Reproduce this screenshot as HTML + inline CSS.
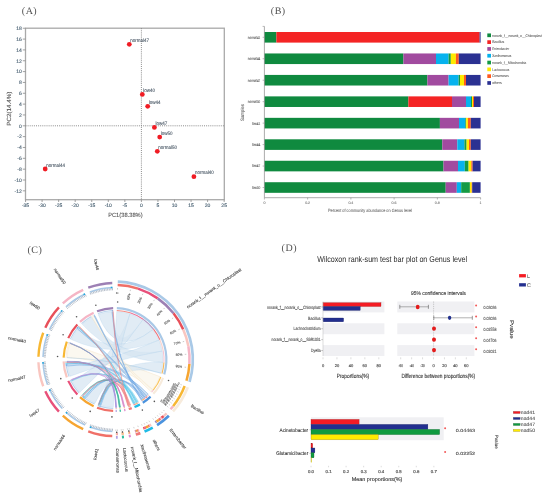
<!DOCTYPE html>
<html><head><meta charset="utf-8"><style>
html,body{margin:0;padding:0;background:#fff;width:550px;height:496px;overflow:hidden}
svg{display:block;filter:blur(0.3px)}
</style></head><body>
<svg width="550" height="496" viewBox="0 0 550 496" text-rendering="geometricPrecision">
<rect width="550" height="496" fill="#fff"/>
<text x="21.80" y="14.20" font-size="10" fill="#505050" text-anchor="start" font-family="'Liberation Serif', serif" letter-spacing="0.5">(A)</text>
<rect x="25.5" y="28.2" width="198.8" height="171.5" fill="none" stroke="#a9a9a9" stroke-width="1.3"/>
<line x1="141.4" y1="28.2" x2="141.4" y2="199.7" stroke="#808080" stroke-width="0.9" stroke-dasharray="1 1.1"/>
<line x1="25.5" y1="125.8" x2="224.3" y2="125.8" stroke="#808080" stroke-width="0.9" stroke-dasharray="1 1.1"/>
<line x1="22.8" y1="190.84" x2="25.5" y2="190.84" stroke="#8a8a8a" stroke-width="0.8"/>
<text x="21.80" y="192.59" font-size="5.0" fill="#4f6677" text-anchor="end" font-family="'Liberation Sans', sans-serif" stroke="#4f6677" stroke-width="0.14" >-12</text>
<line x1="22.8" y1="180.00" x2="25.5" y2="180.00" stroke="#8a8a8a" stroke-width="0.8"/>
<text x="21.80" y="181.75" font-size="5.0" fill="#4f6677" text-anchor="end" font-family="'Liberation Sans', sans-serif" stroke="#4f6677" stroke-width="0.14" >-10</text>
<line x1="22.8" y1="169.16" x2="25.5" y2="169.16" stroke="#8a8a8a" stroke-width="0.8"/>
<text x="21.80" y="170.91" font-size="5.0" fill="#4f6677" text-anchor="end" font-family="'Liberation Sans', sans-serif" stroke="#4f6677" stroke-width="0.14" >-8</text>
<line x1="22.8" y1="158.32" x2="25.5" y2="158.32" stroke="#8a8a8a" stroke-width="0.8"/>
<text x="21.80" y="160.07" font-size="5.0" fill="#4f6677" text-anchor="end" font-family="'Liberation Sans', sans-serif" stroke="#4f6677" stroke-width="0.14" >-6</text>
<line x1="22.8" y1="147.48" x2="25.5" y2="147.48" stroke="#8a8a8a" stroke-width="0.8"/>
<text x="21.80" y="149.23" font-size="5.0" fill="#4f6677" text-anchor="end" font-family="'Liberation Sans', sans-serif" stroke="#4f6677" stroke-width="0.14" >-4</text>
<line x1="22.8" y1="136.64" x2="25.5" y2="136.64" stroke="#8a8a8a" stroke-width="0.8"/>
<text x="21.80" y="138.39" font-size="5.0" fill="#4f6677" text-anchor="end" font-family="'Liberation Sans', sans-serif" stroke="#4f6677" stroke-width="0.14" >-2</text>
<line x1="22.8" y1="125.80" x2="25.5" y2="125.80" stroke="#8a8a8a" stroke-width="0.8"/>
<text x="21.80" y="127.55" font-size="5.0" fill="#4f6677" text-anchor="end" font-family="'Liberation Sans', sans-serif" stroke="#4f6677" stroke-width="0.14" >0</text>
<line x1="22.8" y1="114.96" x2="25.5" y2="114.96" stroke="#8a8a8a" stroke-width="0.8"/>
<text x="21.80" y="116.71" font-size="5.0" fill="#4f6677" text-anchor="end" font-family="'Liberation Sans', sans-serif" stroke="#4f6677" stroke-width="0.14" >2</text>
<line x1="22.8" y1="104.12" x2="25.5" y2="104.12" stroke="#8a8a8a" stroke-width="0.8"/>
<text x="21.80" y="105.87" font-size="5.0" fill="#4f6677" text-anchor="end" font-family="'Liberation Sans', sans-serif" stroke="#4f6677" stroke-width="0.14" >4</text>
<line x1="22.8" y1="93.28" x2="25.5" y2="93.28" stroke="#8a8a8a" stroke-width="0.8"/>
<text x="21.80" y="95.03" font-size="5.0" fill="#4f6677" text-anchor="end" font-family="'Liberation Sans', sans-serif" stroke="#4f6677" stroke-width="0.14" >6</text>
<line x1="22.8" y1="82.44" x2="25.5" y2="82.44" stroke="#8a8a8a" stroke-width="0.8"/>
<text x="21.80" y="84.19" font-size="5.0" fill="#4f6677" text-anchor="end" font-family="'Liberation Sans', sans-serif" stroke="#4f6677" stroke-width="0.14" >8</text>
<line x1="22.8" y1="71.60" x2="25.5" y2="71.60" stroke="#8a8a8a" stroke-width="0.8"/>
<text x="21.80" y="73.35" font-size="5.0" fill="#4f6677" text-anchor="end" font-family="'Liberation Sans', sans-serif" stroke="#4f6677" stroke-width="0.14" >10</text>
<line x1="22.8" y1="60.76" x2="25.5" y2="60.76" stroke="#8a8a8a" stroke-width="0.8"/>
<text x="21.80" y="62.51" font-size="5.0" fill="#4f6677" text-anchor="end" font-family="'Liberation Sans', sans-serif" stroke="#4f6677" stroke-width="0.14" >12</text>
<line x1="22.8" y1="49.92" x2="25.5" y2="49.92" stroke="#8a8a8a" stroke-width="0.8"/>
<text x="21.80" y="51.67" font-size="5.0" fill="#4f6677" text-anchor="end" font-family="'Liberation Sans', sans-serif" stroke="#4f6677" stroke-width="0.14" >14</text>
<line x1="22.8" y1="39.08" x2="25.5" y2="39.08" stroke="#8a8a8a" stroke-width="0.8"/>
<text x="21.80" y="40.83" font-size="5.0" fill="#4f6677" text-anchor="end" font-family="'Liberation Sans', sans-serif" stroke="#4f6677" stroke-width="0.14" >16</text>
<line x1="22.8" y1="28.24" x2="25.5" y2="28.24" stroke="#8a8a8a" stroke-width="0.8"/>
<text x="21.80" y="29.99" font-size="5.0" fill="#4f6677" text-anchor="end" font-family="'Liberation Sans', sans-serif" stroke="#4f6677" stroke-width="0.14" >18</text>
<line x1="25.55" y1="199.7" x2="25.55" y2="202" stroke="#8a8a8a" stroke-width="0.8"/>
<text x="25.55" y="207.00" font-size="5.0" fill="#4f6677" text-anchor="middle" font-family="'Liberation Sans', sans-serif" stroke="#4f6677" stroke-width="0.14" >-35</text>
<line x1="42.10" y1="199.7" x2="42.10" y2="202" stroke="#8a8a8a" stroke-width="0.8"/>
<text x="42.10" y="207.00" font-size="5.0" fill="#4f6677" text-anchor="middle" font-family="'Liberation Sans', sans-serif" stroke="#4f6677" stroke-width="0.14" >-30</text>
<line x1="58.65" y1="199.7" x2="58.65" y2="202" stroke="#8a8a8a" stroke-width="0.8"/>
<text x="58.65" y="207.00" font-size="5.0" fill="#4f6677" text-anchor="middle" font-family="'Liberation Sans', sans-serif" stroke="#4f6677" stroke-width="0.14" >-25</text>
<line x1="75.20" y1="199.7" x2="75.20" y2="202" stroke="#8a8a8a" stroke-width="0.8"/>
<text x="75.20" y="207.00" font-size="5.0" fill="#4f6677" text-anchor="middle" font-family="'Liberation Sans', sans-serif" stroke="#4f6677" stroke-width="0.14" >-20</text>
<line x1="91.75" y1="199.7" x2="91.75" y2="202" stroke="#8a8a8a" stroke-width="0.8"/>
<text x="91.75" y="207.00" font-size="5.0" fill="#4f6677" text-anchor="middle" font-family="'Liberation Sans', sans-serif" stroke="#4f6677" stroke-width="0.14" >-15</text>
<line x1="108.30" y1="199.7" x2="108.30" y2="202" stroke="#8a8a8a" stroke-width="0.8"/>
<text x="108.30" y="207.00" font-size="5.0" fill="#4f6677" text-anchor="middle" font-family="'Liberation Sans', sans-serif" stroke="#4f6677" stroke-width="0.14" >-10</text>
<line x1="124.85" y1="199.7" x2="124.85" y2="202" stroke="#8a8a8a" stroke-width="0.8"/>
<text x="124.85" y="207.00" font-size="5.0" fill="#4f6677" text-anchor="middle" font-family="'Liberation Sans', sans-serif" stroke="#4f6677" stroke-width="0.14" >-5</text>
<line x1="141.40" y1="199.7" x2="141.40" y2="202" stroke="#8a8a8a" stroke-width="0.8"/>
<text x="141.40" y="207.00" font-size="5.0" fill="#4f6677" text-anchor="middle" font-family="'Liberation Sans', sans-serif" stroke="#4f6677" stroke-width="0.14" >0</text>
<line x1="157.95" y1="199.7" x2="157.95" y2="202" stroke="#8a8a8a" stroke-width="0.8"/>
<text x="157.95" y="207.00" font-size="5.0" fill="#4f6677" text-anchor="middle" font-family="'Liberation Sans', sans-serif" stroke="#4f6677" stroke-width="0.14" >5</text>
<line x1="174.50" y1="199.7" x2="174.50" y2="202" stroke="#8a8a8a" stroke-width="0.8"/>
<text x="174.50" y="207.00" font-size="5.0" fill="#4f6677" text-anchor="middle" font-family="'Liberation Sans', sans-serif" stroke="#4f6677" stroke-width="0.14" >10</text>
<line x1="191.05" y1="199.7" x2="191.05" y2="202" stroke="#8a8a8a" stroke-width="0.8"/>
<text x="191.05" y="207.00" font-size="5.0" fill="#4f6677" text-anchor="middle" font-family="'Liberation Sans', sans-serif" stroke="#4f6677" stroke-width="0.14" >15</text>
<line x1="207.60" y1="199.7" x2="207.60" y2="202" stroke="#8a8a8a" stroke-width="0.8"/>
<text x="207.60" y="207.00" font-size="5.0" fill="#4f6677" text-anchor="middle" font-family="'Liberation Sans', sans-serif" stroke="#4f6677" stroke-width="0.14" >20</text>
<line x1="224.15" y1="199.7" x2="224.15" y2="202" stroke="#8a8a8a" stroke-width="0.8"/>
<text x="224.15" y="207.00" font-size="5.0" fill="#4f6677" text-anchor="middle" font-family="'Liberation Sans', sans-serif" stroke="#4f6677" stroke-width="0.14" >25</text>
<circle cx="129.3" cy="44.3" r="2.4" fill="#f01c24"/>
<circle cx="142.3" cy="94.4" r="2.4" fill="#f01c24"/>
<circle cx="147.7" cy="106.3" r="2.4" fill="#f01c24"/>
<circle cx="154.4" cy="127.4" r="2.4" fill="#f01c24"/>
<circle cx="159.7" cy="137.1" r="2.4" fill="#f01c24"/>
<circle cx="157.3" cy="151.3" r="2.4" fill="#f01c24"/>
<circle cx="45.2" cy="169" r="2.4" fill="#f01c24"/>
<circle cx="193.9" cy="176.7" r="2.4" fill="#f01c24"/>
<text x="130.30" y="41.90" font-size="5.0" fill="#4a5866" text-anchor="start" font-family="'Liberation Sans', sans-serif" textLength="18.8" lengthAdjust="spacingAndGlyphs" stroke="#4a5866" stroke-width="0.1" >normal47</text>
<text x="143.30" y="92.00" font-size="5.0" fill="#4a5866" text-anchor="start" font-family="'Liberation Sans', sans-serif" textLength="11.8" lengthAdjust="spacingAndGlyphs" stroke="#4a5866" stroke-width="0.1" >low40</text>
<text x="148.70" y="103.90" font-size="5.0" fill="#4a5866" text-anchor="start" font-family="'Liberation Sans', sans-serif" textLength="11.8" lengthAdjust="spacingAndGlyphs" stroke="#4a5866" stroke-width="0.1" >low44</text>
<text x="155.40" y="125.00" font-size="5.0" fill="#4a5866" text-anchor="start" font-family="'Liberation Sans', sans-serif" textLength="11.8" lengthAdjust="spacingAndGlyphs" stroke="#4a5866" stroke-width="0.1" >low47</text>
<text x="160.70" y="134.70" font-size="5.0" fill="#4a5866" text-anchor="start" font-family="'Liberation Sans', sans-serif" textLength="11.8" lengthAdjust="spacingAndGlyphs" stroke="#4a5866" stroke-width="0.1" >low50</text>
<text x="158.30" y="148.90" font-size="5.0" fill="#4a5866" text-anchor="start" font-family="'Liberation Sans', sans-serif" textLength="18.8" lengthAdjust="spacingAndGlyphs" stroke="#4a5866" stroke-width="0.1" >normal50</text>
<text x="46.20" y="166.60" font-size="5.0" fill="#4a5866" text-anchor="start" font-family="'Liberation Sans', sans-serif" textLength="18.8" lengthAdjust="spacingAndGlyphs" stroke="#4a5866" stroke-width="0.1" >normal44</text>
<text x="194.90" y="174.30" font-size="5.0" fill="#4a5866" text-anchor="start" font-family="'Liberation Sans', sans-serif" textLength="18.8" lengthAdjust="spacingAndGlyphs" stroke="#4a5866" stroke-width="0.1" >normal40</text>
<text x="9.40" y="108.70" font-size="6" fill="#555" text-anchor="middle" font-family="'Liberation Sans', sans-serif" textLength="34" lengthAdjust="spacingAndGlyphs" transform="rotate(-90 9.40 108.70)" stroke="#555" stroke-width="0.1" dominant-baseline="middle">PC2(14.4%)</text>
<text x="125.40" y="217.00" font-size="6" fill="#555" text-anchor="middle" font-family="'Liberation Sans', sans-serif" textLength="34.5" lengthAdjust="spacingAndGlyphs" stroke="#555" stroke-width="0.1" >PC1(38.38%)</text>
<text x="270.80" y="14.00" font-size="10" fill="#505050" text-anchor="start" font-family="'Liberation Serif', serif" letter-spacing="0.5">(B)</text>
<rect x="264.40" y="32.00" width="12.00" height="10.6" fill="#0f8a3f"/>
<rect x="276.40" y="32.00" width="203.20" height="10.6" fill="#f42424"/>
<rect x="479.60" y="32.00" width="1.00" height="10.6" fill="#2b3192"/>
<line x1="262.6" y1="37.30" x2="264.4" y2="37.30" stroke="#777" stroke-width="0.5"/>
<text x="260.30" y="38.70" font-size="4.0" fill="#555" text-anchor="end" font-family="'Liberation Sans', sans-serif" textLength="12.5" lengthAdjust="spacingAndGlyphs" stroke="#555" stroke-width="0.07" >normal41</text>
<rect x="264.40" y="53.46" width="139.00" height="10.6" fill="#0f8a3f"/>
<rect x="403.40" y="53.46" width="32.60" height="10.6" fill="#a14b9f"/>
<rect x="436.00" y="53.46" width="12.60" height="10.6" fill="#06b2ee"/>
<rect x="448.60" y="53.46" width="2.20" height="10.6" fill="#159a45"/>
<rect x="450.80" y="53.46" width="5.10" height="10.6" fill="#ffea00"/>
<rect x="455.90" y="53.46" width="2.90" height="10.6" fill="#ff5b1f"/>
<rect x="458.80" y="53.46" width="21.80" height="10.6" fill="#2b3192"/>
<line x1="262.6" y1="58.76" x2="264.4" y2="58.76" stroke="#777" stroke-width="0.5"/>
<text x="260.30" y="60.16" font-size="4.0" fill="#555" text-anchor="end" font-family="'Liberation Sans', sans-serif" textLength="12.5" lengthAdjust="spacingAndGlyphs" stroke="#555" stroke-width="0.07" >normal44</text>
<rect x="264.40" y="74.92" width="163.00" height="10.6" fill="#0f8a3f"/>
<rect x="427.40" y="74.92" width="21.20" height="10.6" fill="#a14b9f"/>
<rect x="448.60" y="74.92" width="10.00" height="10.6" fill="#06b2ee"/>
<rect x="458.60" y="74.92" width="1.40" height="10.6" fill="#159a45"/>
<rect x="460.00" y="74.92" width="4.00" height="10.6" fill="#ffea00"/>
<rect x="464.00" y="74.92" width="2.00" height="10.6" fill="#ff5b1f"/>
<rect x="466.00" y="74.92" width="14.60" height="10.6" fill="#2b3192"/>
<line x1="262.6" y1="80.22" x2="264.4" y2="80.22" stroke="#777" stroke-width="0.5"/>
<text x="260.30" y="81.62" font-size="4.0" fill="#555" text-anchor="end" font-family="'Liberation Sans', sans-serif" textLength="12.5" lengthAdjust="spacingAndGlyphs" stroke="#555" stroke-width="0.07" >normal47</text>
<rect x="264.40" y="96.38" width="144.00" height="10.6" fill="#0f8a3f"/>
<rect x="408.40" y="96.38" width="43.60" height="10.6" fill="#f42424"/>
<rect x="452.00" y="96.38" width="14.00" height="10.6" fill="#a14b9f"/>
<rect x="466.00" y="96.38" width="5.00" height="10.6" fill="#06b2ee"/>
<rect x="471.00" y="96.38" width="1.00" height="10.6" fill="#159a45"/>
<rect x="472.00" y="96.38" width="1.00" height="10.6" fill="#ffea00"/>
<rect x="473.00" y="96.38" width="1.00" height="10.6" fill="#ff5b1f"/>
<rect x="474.00" y="96.38" width="6.60" height="10.6" fill="#2b3192"/>
<line x1="262.6" y1="101.68" x2="264.4" y2="101.68" stroke="#777" stroke-width="0.5"/>
<text x="260.30" y="103.08" font-size="4.0" fill="#555" text-anchor="end" font-family="'Liberation Sans', sans-serif" textLength="12.5" lengthAdjust="spacingAndGlyphs" stroke="#555" stroke-width="0.07" >normal50</text>
<rect x="264.40" y="117.84" width="175.50" height="10.6" fill="#0f8a3f"/>
<rect x="439.90" y="117.84" width="19.10" height="10.6" fill="#a14b9f"/>
<rect x="459.00" y="117.84" width="6.30" height="10.6" fill="#06b2ee"/>
<rect x="465.30" y="117.84" width="0.90" height="10.6" fill="#159a45"/>
<rect x="466.20" y="117.84" width="1.80" height="10.6" fill="#ffea00"/>
<rect x="468.00" y="117.84" width="2.80" height="10.6" fill="#ff5b1f"/>
<rect x="470.80" y="117.84" width="9.80" height="10.6" fill="#2b3192"/>
<line x1="262.6" y1="123.14" x2="264.4" y2="123.14" stroke="#777" stroke-width="0.5"/>
<text x="260.30" y="124.54" font-size="4.0" fill="#555" text-anchor="end" font-family="'Liberation Sans', sans-serif" textLength="8.3" lengthAdjust="spacingAndGlyphs" stroke="#555" stroke-width="0.07" >low41</text>
<rect x="264.40" y="139.30" width="177.90" height="10.6" fill="#0f8a3f"/>
<rect x="442.30" y="139.30" width="15.00" height="10.6" fill="#a14b9f"/>
<rect x="457.30" y="139.30" width="7.10" height="10.6" fill="#06b2ee"/>
<rect x="464.40" y="139.30" width="2.20" height="10.6" fill="#159a45"/>
<rect x="466.60" y="139.30" width="2.40" height="10.6" fill="#ffea00"/>
<rect x="469.00" y="139.30" width="1.80" height="10.6" fill="#ff5b1f"/>
<rect x="470.80" y="139.30" width="9.80" height="10.6" fill="#2b3192"/>
<line x1="262.6" y1="144.60" x2="264.4" y2="144.60" stroke="#777" stroke-width="0.5"/>
<text x="260.30" y="146.00" font-size="4.0" fill="#555" text-anchor="end" font-family="'Liberation Sans', sans-serif" textLength="8.3" lengthAdjust="spacingAndGlyphs" stroke="#555" stroke-width="0.07" >low44</text>
<rect x="264.40" y="160.76" width="179.10" height="10.6" fill="#0f8a3f"/>
<rect x="443.50" y="160.76" width="14.50" height="10.6" fill="#a14b9f"/>
<rect x="458.00" y="160.76" width="6.80" height="10.6" fill="#06b2ee"/>
<rect x="464.80" y="160.76" width="3.80" height="10.6" fill="#159a45"/>
<rect x="468.60" y="160.76" width="2.70" height="10.6" fill="#ffea00"/>
<rect x="471.30" y="160.76" width="1.30" height="10.6" fill="#ff5b1f"/>
<rect x="472.60" y="160.76" width="8.00" height="10.6" fill="#2b3192"/>
<line x1="262.6" y1="166.06" x2="264.4" y2="166.06" stroke="#777" stroke-width="0.5"/>
<text x="260.30" y="167.46" font-size="4.0" fill="#555" text-anchor="end" font-family="'Liberation Sans', sans-serif" textLength="8.3" lengthAdjust="spacingAndGlyphs" stroke="#555" stroke-width="0.07" >low47</text>
<rect x="264.40" y="182.22" width="181.30" height="10.6" fill="#0f8a3f"/>
<rect x="445.70" y="182.22" width="11.10" height="10.6" fill="#a14b9f"/>
<rect x="456.80" y="182.22" width="4.40" height="10.6" fill="#06b2ee"/>
<rect x="461.20" y="182.22" width="8.70" height="10.6" fill="#159a45"/>
<rect x="469.90" y="182.22" width="1.80" height="10.6" fill="#ffea00"/>
<rect x="471.70" y="182.22" width="0.50" height="10.6" fill="#ff5b1f"/>
<rect x="472.20" y="182.22" width="8.40" height="10.6" fill="#2b3192"/>
<line x1="262.6" y1="187.52" x2="264.4" y2="187.52" stroke="#777" stroke-width="0.5"/>
<text x="260.30" y="188.92" font-size="4.0" fill="#555" text-anchor="end" font-family="'Liberation Sans', sans-serif" textLength="8.3" lengthAdjust="spacingAndGlyphs" stroke="#555" stroke-width="0.07" >low50</text>
<line x1="264.4" y1="26.4" x2="264.4" y2="197.7" stroke="#888" stroke-width="0.7"/>
<line x1="262.6" y1="26.4" x2="264.4" y2="26.4" stroke="#888" stroke-width="0.6"/>
<line x1="264.4" y1="197.7" x2="480.6" y2="197.7" stroke="#888" stroke-width="0.7"/>
<line x1="264.40" y1="197.7" x2="264.40" y2="199.5" stroke="#888" stroke-width="0.6"/>
<text x="264.40" y="204.20" font-size="3.6" fill="#666" text-anchor="middle" font-family="'Liberation Sans', sans-serif" stroke="#666" stroke-width="0.06" >0</text>
<line x1="307.64" y1="197.7" x2="307.64" y2="199.5" stroke="#888" stroke-width="0.6"/>
<text x="307.64" y="204.20" font-size="3.6" fill="#666" text-anchor="middle" font-family="'Liberation Sans', sans-serif" stroke="#666" stroke-width="0.06" >0.2</text>
<line x1="350.88" y1="197.7" x2="350.88" y2="199.5" stroke="#888" stroke-width="0.6"/>
<text x="350.88" y="204.20" font-size="3.6" fill="#666" text-anchor="middle" font-family="'Liberation Sans', sans-serif" stroke="#666" stroke-width="0.06" >0.4</text>
<line x1="394.12" y1="197.7" x2="394.12" y2="199.5" stroke="#888" stroke-width="0.6"/>
<text x="394.12" y="204.20" font-size="3.6" fill="#666" text-anchor="middle" font-family="'Liberation Sans', sans-serif" stroke="#666" stroke-width="0.06" >0.6</text>
<line x1="437.36" y1="197.7" x2="437.36" y2="199.5" stroke="#888" stroke-width="0.6"/>
<text x="437.36" y="204.20" font-size="3.6" fill="#666" text-anchor="middle" font-family="'Liberation Sans', sans-serif" stroke="#666" stroke-width="0.06" >0.8</text>
<line x1="480.60" y1="197.7" x2="480.60" y2="199.5" stroke="#888" stroke-width="0.6"/>
<text x="480.60" y="204.20" font-size="3.6" fill="#666" text-anchor="middle" font-family="'Liberation Sans', sans-serif" stroke="#666" stroke-width="0.06" >1</text>
<text x="328.00" y="211.50" font-size="4.6" fill="#666" text-anchor="start" font-family="'Liberation Sans', sans-serif" textLength="84" lengthAdjust="spacingAndGlyphs" stroke="#666" stroke-width="0.06" >Percent of community abundance on Genus level</text>
<text x="242.60" y="112.50" font-size="4.8" fill="#555" text-anchor="middle" font-family="'Liberation Sans', sans-serif" textLength="17" lengthAdjust="spacingAndGlyphs" transform="rotate(-90 242.60 112.50)" stroke="#555" stroke-width="0.06" dominant-baseline="middle">Samples</text>
<rect x="487.3" y="33.45" width="3.7" height="3.7" fill="#0f8a3f"/>
<text x="492.20" y="36.60" font-size="3.8" fill="#555" text-anchor="start" font-family="'Liberation Sans', sans-serif" textLength="49.7" lengthAdjust="spacingAndGlyphs" stroke="#555" stroke-width="0.06" >norank_f__norank_o__Chloroplast</text>
<rect x="487.3" y="40.26" width="3.7" height="3.7" fill="#f42424"/>
<text x="492.20" y="43.41" font-size="3.8" fill="#555" text-anchor="start" font-family="'Liberation Sans', sans-serif" textLength="12" lengthAdjust="spacingAndGlyphs" stroke="#555" stroke-width="0.06" >Bacillus</text>
<rect x="487.3" y="47.07" width="3.7" height="3.7" fill="#a14b9f"/>
<text x="492.20" y="50.22" font-size="3.8" fill="#555" text-anchor="start" font-family="'Liberation Sans', sans-serif" textLength="17" lengthAdjust="spacingAndGlyphs" stroke="#555" stroke-width="0.06" >Enterobacter</text>
<rect x="487.3" y="53.88" width="3.7" height="3.7" fill="#06b2ee"/>
<text x="492.20" y="57.03" font-size="3.8" fill="#555" text-anchor="start" font-family="'Liberation Sans', sans-serif" textLength="19" lengthAdjust="spacingAndGlyphs" stroke="#555" stroke-width="0.06" >Xanthomonas</text>
<rect x="487.3" y="60.69" width="3.7" height="3.7" fill="#159a45"/>
<text x="492.20" y="63.84" font-size="3.8" fill="#555" text-anchor="start" font-family="'Liberation Sans', sans-serif" textLength="34" lengthAdjust="spacingAndGlyphs" stroke="#555" stroke-width="0.06" >norank_f__Mitochondria</text>
<rect x="487.3" y="67.50" width="3.7" height="3.7" fill="#ffea00"/>
<text x="492.20" y="70.65" font-size="3.8" fill="#555" text-anchor="start" font-family="'Liberation Sans', sans-serif" textLength="17" lengthAdjust="spacingAndGlyphs" stroke="#555" stroke-width="0.06" >Lactococcus</text>
<rect x="487.3" y="74.31" width="3.7" height="3.7" fill="#ff5b1f"/>
<text x="492.20" y="77.46" font-size="3.8" fill="#555" text-anchor="start" font-family="'Liberation Sans', sans-serif" textLength="16.5" lengthAdjust="spacingAndGlyphs" stroke="#555" stroke-width="0.06" >Comamonas</text>
<rect x="487.3" y="81.12" width="3.7" height="3.7" fill="#2b3192"/>
<text x="492.20" y="84.27" font-size="3.8" fill="#555" text-anchor="start" font-family="'Liberation Sans', sans-serif" textLength="9.5" lengthAdjust="spacingAndGlyphs" stroke="#555" stroke-width="0.06" >others</text>
<text x="281.60" y="251.00" font-size="10" fill="#505050" text-anchor="start" font-family="'Liberation Serif', serif" letter-spacing="0.6">(D)</text>
<text x="317.30" y="262.20" font-size="8.4" fill="#2a2a2a" text-anchor="start" font-family="'Liberation Sans', sans-serif" textLength="149.8" lengthAdjust="spacingAndGlyphs" >Wilcoxon rank-sum test bar plot on Genus level</text>
<rect x="519.1" y="274.1" width="6.8" height="3.3" fill="#f41c24"/>
<rect x="519.1" y="283.2" width="6.8" height="3.3" fill="#232f8f"/>
<text x="527.10" y="277.60" font-size="5.2" fill="#555" text-anchor="start" font-family="'Liberation Sans', sans-serif" stroke="#555" stroke-width="0.05" >L</text>
<text x="527.10" y="286.50" font-size="5.2" fill="#555" text-anchor="start" font-family="'Liberation Sans', sans-serif" stroke="#555" stroke-width="0.05" >C</text>
<rect x="323.0" y="301.50" width="61.4" height="10.9" fill="#f0f0f3"/>
<rect x="397.3" y="301.50" width="77.1" height="10.9" fill="#f0f0f3"/>
<rect x="323.0" y="323.30" width="61.4" height="10.9" fill="#f0f0f3"/>
<rect x="397.3" y="323.30" width="77.1" height="10.9" fill="#f0f0f3"/>
<rect x="323.0" y="345.10" width="61.4" height="10.9" fill="#f0f0f3"/>
<rect x="397.3" y="345.10" width="77.1" height="10.9" fill="#f0f0f3"/>
<rect x="323.0" y="302.7" width="58" height="3.8" fill="#f41c24" stroke="#a01818" stroke-width="0.3"/>
<rect x="323.0" y="306.5" width="37.2" height="3.9" fill="#232f8f" stroke="#161e60" stroke-width="0.3"/>
<rect x="323.0" y="318" width="20.6" height="3.8" fill="#232f8f" stroke="#161e60" stroke-width="0.3"/>
<line x1="323.0" y1="301.5" x2="323.0" y2="356" stroke="#bbb" stroke-width="0.5"/>
<line x1="321.2" y1="306.95" x2="323.0" y2="306.95" stroke="#777" stroke-width="0.4"/>
<text x="320.60" y="308.65" font-size="4.5" fill="#444" text-anchor="end" font-family="'Liberation Sans', sans-serif" textLength="53.5" lengthAdjust="spacingAndGlyphs" stroke="#444" stroke-width="0.09" >norank_f__norank_o__Chloroplast</text>
<line x1="321.2" y1="317.85" x2="323.0" y2="317.85" stroke="#777" stroke-width="0.4"/>
<text x="320.60" y="319.55" font-size="4.5" fill="#444" text-anchor="end" font-family="'Liberation Sans', sans-serif" textLength="12.5" lengthAdjust="spacingAndGlyphs" stroke="#444" stroke-width="0.09" >Bacillus</text>
<line x1="321.2" y1="328.75" x2="323.0" y2="328.75" stroke="#777" stroke-width="0.4"/>
<text x="320.60" y="330.45" font-size="4.5" fill="#444" text-anchor="end" font-family="'Liberation Sans', sans-serif" textLength="27" lengthAdjust="spacingAndGlyphs" stroke="#444" stroke-width="0.09" >Lachnoclostridium</text>
<line x1="321.2" y1="339.65" x2="323.0" y2="339.65" stroke="#777" stroke-width="0.4"/>
<text x="320.60" y="341.35" font-size="4.5" fill="#444" text-anchor="end" font-family="'Liberation Sans', sans-serif" textLength="49" lengthAdjust="spacingAndGlyphs" stroke="#444" stroke-width="0.09" >norank_f__norank_o__SBR1031</text>
<line x1="321.2" y1="350.55" x2="323.0" y2="350.55" stroke="#777" stroke-width="0.4"/>
<text x="320.60" y="352.25" font-size="4.5" fill="#444" text-anchor="end" font-family="'Liberation Sans', sans-serif" textLength="9.5" lengthAdjust="spacingAndGlyphs" stroke="#444" stroke-width="0.09" >Dyella</text>
<line x1="323.00" y1="357.3" x2="323.00" y2="359.3" stroke="#bbb" stroke-width="0.5"/>
<text x="323.00" y="366.60" font-size="4.0" fill="#555" text-anchor="middle" font-family="'Liberation Sans', sans-serif" stroke="#555" stroke-width="0.18" >0</text>
<line x1="336.95" y1="357.3" x2="336.95" y2="359.3" stroke="#bbb" stroke-width="0.5"/>
<text x="336.95" y="366.60" font-size="4.0" fill="#555" text-anchor="middle" font-family="'Liberation Sans', sans-serif" stroke="#555" stroke-width="0.18" >20</text>
<line x1="350.90" y1="357.3" x2="350.90" y2="359.3" stroke="#bbb" stroke-width="0.5"/>
<text x="350.90" y="366.60" font-size="4.0" fill="#555" text-anchor="middle" font-family="'Liberation Sans', sans-serif" stroke="#555" stroke-width="0.18" >40</text>
<line x1="364.85" y1="357.3" x2="364.85" y2="359.3" stroke="#bbb" stroke-width="0.5"/>
<text x="364.85" y="366.60" font-size="4.0" fill="#555" text-anchor="middle" font-family="'Liberation Sans', sans-serif" stroke="#555" stroke-width="0.18" >60</text>
<line x1="378.80" y1="357.3" x2="378.80" y2="359.3" stroke="#bbb" stroke-width="0.5"/>
<text x="378.80" y="366.60" font-size="4.0" fill="#555" text-anchor="middle" font-family="'Liberation Sans', sans-serif" stroke="#555" stroke-width="0.18" >80</text>
<text x="352.90" y="378.30" font-size="6.0" fill="#333" text-anchor="middle" font-family="'Liberation Sans', sans-serif" textLength="32.5" lengthAdjust="spacingAndGlyphs" stroke="#333" stroke-width="0.12" >Proportions(%)</text>
<line x1="433.6" y1="301.5" x2="433.6" y2="356" stroke="#aaa" stroke-width="0.6" stroke-dasharray="1.2 1"/>
<line x1="400.70" y1="357.3" x2="400.70" y2="359.3" stroke="#bbb" stroke-width="0.5"/>
<text x="400.70" y="366.60" font-size="4.0" fill="#555" text-anchor="middle" font-family="'Liberation Sans', sans-serif" textLength="4.4" lengthAdjust="spacingAndGlyphs" stroke="#555" stroke-width="0.18" >-60</text>
<line x1="411.63" y1="357.3" x2="411.63" y2="359.3" stroke="#bbb" stroke-width="0.5"/>
<text x="411.63" y="366.60" font-size="4.0" fill="#555" text-anchor="middle" font-family="'Liberation Sans', sans-serif" textLength="4.4" lengthAdjust="spacingAndGlyphs" stroke="#555" stroke-width="0.18" >-40</text>
<line x1="422.57" y1="357.3" x2="422.57" y2="359.3" stroke="#bbb" stroke-width="0.5"/>
<text x="422.57" y="366.60" font-size="4.0" fill="#555" text-anchor="middle" font-family="'Liberation Sans', sans-serif" textLength="4.4" lengthAdjust="spacingAndGlyphs" stroke="#555" stroke-width="0.18" >-20</text>
<line x1="433.50" y1="357.3" x2="433.50" y2="359.3" stroke="#bbb" stroke-width="0.5"/>
<text x="433.50" y="366.60" font-size="4.0" fill="#555" text-anchor="middle" font-family="'Liberation Sans', sans-serif" stroke="#555" stroke-width="0.18" >0</text>
<line x1="444.43" y1="357.3" x2="444.43" y2="359.3" stroke="#bbb" stroke-width="0.5"/>
<text x="444.43" y="366.60" font-size="4.0" fill="#555" text-anchor="middle" font-family="'Liberation Sans', sans-serif" stroke="#555" stroke-width="0.18" >20</text>
<line x1="455.37" y1="357.3" x2="455.37" y2="359.3" stroke="#bbb" stroke-width="0.5"/>
<text x="455.37" y="366.60" font-size="4.0" fill="#555" text-anchor="middle" font-family="'Liberation Sans', sans-serif" stroke="#555" stroke-width="0.18" >40</text>
<line x1="466.30" y1="357.3" x2="466.30" y2="359.3" stroke="#bbb" stroke-width="0.5"/>
<text x="466.30" y="366.60" font-size="4.0" fill="#555" text-anchor="middle" font-family="'Liberation Sans', sans-serif" stroke="#555" stroke-width="0.18" >60</text>
<text x="438.50" y="295.00" font-size="5.5" fill="#333" text-anchor="middle" font-family="'Liberation Sans', sans-serif" textLength="55" lengthAdjust="spacingAndGlyphs" stroke="#333" stroke-width="0.11" >95% confidence intervals</text>
<text x="438.30" y="378.30" font-size="6.0" fill="#333" text-anchor="middle" font-family="'Liberation Sans', sans-serif" textLength="73.5" lengthAdjust="spacingAndGlyphs" stroke="#333" stroke-width="0.12" >Difference between proportions(%)</text>
<line x1="399.8" y1="306.8" x2="428.4" y2="306.8" stroke="#666" stroke-width="0.5"/>
<line x1="399.8" y1="304.8" x2="399.8" y2="308.8" stroke="#555" stroke-width="0.6"/>
<line x1="428.4" y1="304.8" x2="428.4" y2="308.8" stroke="#555" stroke-width="0.6"/>
<line x1="433.8" y1="317.8" x2="472.3" y2="317.8" stroke="#666" stroke-width="0.5"/>
<line x1="433.8" y1="315.8" x2="433.8" y2="319.8" stroke="#555" stroke-width="0.6"/>
<line x1="472.3" y1="315.8" x2="472.3" y2="319.8" stroke="#555" stroke-width="0.6"/>
<ellipse cx="417.7" cy="307" rx="1.9" ry="2.2" fill="#e41c1c"/>
<ellipse cx="449.6" cy="317.8" rx="1.7" ry="2.1" fill="#22318f"/>
<ellipse cx="434.0" cy="328.6" rx="2.0" ry="2.2" fill="#e41c1c"/>
<ellipse cx="434.0" cy="339.6" rx="2.0" ry="2.2" fill="#e41c1c"/>
<ellipse cx="434.0" cy="350.1" rx="2.0" ry="2.2" fill="#e41c1c"/>
<circle cx="476.1" cy="305.55" r="1.0" fill="#f25a5a"/>
<text x="483.60" y="309.05" font-size="4.6" fill="#444" text-anchor="start" font-family="'Liberation Sans', sans-serif" textLength="12.8" lengthAdjust="spacingAndGlyphs" stroke="#444" stroke-width="0.07" >0.03036</text>
<circle cx="476.1" cy="316.45" r="1.0" fill="#f25a5a"/>
<text x="483.60" y="319.95" font-size="4.6" fill="#444" text-anchor="start" font-family="'Liberation Sans', sans-serif" textLength="12.8" lengthAdjust="spacingAndGlyphs" stroke="#444" stroke-width="0.07" >0.03036</text>
<circle cx="476.1" cy="327.35" r="1.0" fill="#f25a5a"/>
<text x="483.60" y="330.85" font-size="4.6" fill="#444" text-anchor="start" font-family="'Liberation Sans', sans-serif" textLength="12.8" lengthAdjust="spacingAndGlyphs" stroke="#444" stroke-width="0.07" >0.02558</text>
<circle cx="476.1" cy="338.25" r="1.0" fill="#f25a5a"/>
<text x="483.60" y="341.75" font-size="4.6" fill="#444" text-anchor="start" font-family="'Liberation Sans', sans-serif" textLength="12.8" lengthAdjust="spacingAndGlyphs" stroke="#444" stroke-width="0.07" >0.04706</text>
<circle cx="476.1" cy="349.15" r="1.0" fill="#f25a5a"/>
<text x="483.60" y="352.65" font-size="4.6" fill="#444" text-anchor="start" font-family="'Liberation Sans', sans-serif" textLength="12.8" lengthAdjust="spacingAndGlyphs" stroke="#444" stroke-width="0.07" >0.02021</text>
<text x="511.50" y="329.40" font-size="5.5" fill="#333" text-anchor="middle" font-family="'Liberation Sans', sans-serif" textLength="18.7" lengthAdjust="spacingAndGlyphs" transform="rotate(90 511.50 329.40)" stroke="#333" stroke-width="0.11" dominant-baseline="middle">Pvalue</text>
<rect x="311" y="417.3" width="132.7" height="22.9" fill="#f0f0f3"/>
<rect x="311" y="419.4" width="48.09" height="5.00" fill="#f41c24" stroke="#9a1616" stroke-width="0.3"/>
<rect x="311" y="424.4" width="116.88" height="5.00" fill="#232f8f" stroke="#161e60" stroke-width="0.3"/>
<rect x="311" y="429.4" width="128.64" height="5.20" fill="#0f9a3f" stroke="#0a5a25" stroke-width="0.3"/>
<rect x="311" y="434.6" width="67.22" height="5.10" fill="#ffea00" stroke="#8a7a00" stroke-width="0.3"/>
<rect x="311" y="443.4" width="1.7" height="4.60" fill="#f41c24" stroke="#9a1616" stroke-width="0.3"/>
<rect x="311" y="448" width="3.9" height="4.80" fill="#232f8f" stroke="#161e60" stroke-width="0.3"/>
<rect x="311" y="452.8" width="3.0" height="5.00" fill="#0f9a3f" stroke="#0a5a25" stroke-width="0.3"/>
<rect x="311" y="457.8" width="0.5" height="4.70" fill="#ffea00" stroke="#8a7a00" stroke-width="0.3"/>
<line x1="311.00" y1="465.8" x2="311.00" y2="467.3" stroke="#bbb" stroke-width="0.5"/>
<text x="311.00" y="473.00" font-size="4.3" fill="#555" text-anchor="middle" font-family="'Liberation Sans', sans-serif" stroke="#555" stroke-width="0.193" >0.0</text>
<line x1="328.55" y1="465.8" x2="328.55" y2="467.3" stroke="#bbb" stroke-width="0.5"/>
<text x="328.55" y="473.00" font-size="4.3" fill="#555" text-anchor="middle" font-family="'Liberation Sans', sans-serif" stroke="#555" stroke-width="0.193" >0.1</text>
<line x1="346.10" y1="465.8" x2="346.10" y2="467.3" stroke="#bbb" stroke-width="0.5"/>
<text x="346.10" y="473.00" font-size="4.3" fill="#555" text-anchor="middle" font-family="'Liberation Sans', sans-serif" stroke="#555" stroke-width="0.193" >0.2</text>
<line x1="363.65" y1="465.8" x2="363.65" y2="467.3" stroke="#bbb" stroke-width="0.5"/>
<text x="363.65" y="473.00" font-size="4.3" fill="#555" text-anchor="middle" font-family="'Liberation Sans', sans-serif" stroke="#555" stroke-width="0.193" >0.3</text>
<line x1="381.20" y1="465.8" x2="381.20" y2="467.3" stroke="#bbb" stroke-width="0.5"/>
<text x="381.20" y="473.00" font-size="4.3" fill="#555" text-anchor="middle" font-family="'Liberation Sans', sans-serif" stroke="#555" stroke-width="0.193" >0.4</text>
<line x1="398.75" y1="465.8" x2="398.75" y2="467.3" stroke="#bbb" stroke-width="0.5"/>
<text x="398.75" y="473.00" font-size="4.3" fill="#555" text-anchor="middle" font-family="'Liberation Sans', sans-serif" stroke="#555" stroke-width="0.193" >0.5</text>
<line x1="416.30" y1="465.8" x2="416.30" y2="467.3" stroke="#bbb" stroke-width="0.5"/>
<text x="416.30" y="473.00" font-size="4.3" fill="#555" text-anchor="middle" font-family="'Liberation Sans', sans-serif" stroke="#555" stroke-width="0.193" >0.6</text>
<line x1="433.85" y1="465.8" x2="433.85" y2="467.3" stroke="#bbb" stroke-width="0.5"/>
<text x="433.85" y="473.00" font-size="4.3" fill="#555" text-anchor="middle" font-family="'Liberation Sans', sans-serif" stroke="#555" stroke-width="0.193" >0.7</text>
<text x="308.20" y="431.60" font-size="5.2" fill="#333" text-anchor="end" font-family="'Liberation Sans', sans-serif" textLength="28.7" lengthAdjust="spacingAndGlyphs" stroke="#333" stroke-width="0.104" >Acinetobacter</text>
<text x="308.20" y="454.50" font-size="5.2" fill="#333" text-anchor="end" font-family="'Liberation Sans', sans-serif" textLength="32" lengthAdjust="spacingAndGlyphs" stroke="#333" stroke-width="0.104" >Glutamicibacter</text>
<line x1="309.5" y1="429.8" x2="311" y2="429.8" stroke="#777" stroke-width="0.4"/>
<line x1="309.5" y1="453.4" x2="311" y2="453.4" stroke="#777" stroke-width="0.4"/>
<text x="377.10" y="481.20" font-size="5.3" fill="#333" text-anchor="middle" font-family="'Liberation Sans', sans-serif" textLength="50.6" lengthAdjust="spacingAndGlyphs" stroke="#333" stroke-width="0.106" >Mean proportions(%)</text>
<circle cx="445.1" cy="428.2" r="1.0" fill="#f25a5a"/>
<circle cx="445.1" cy="451.9" r="1.0" fill="#f25a5a"/>
<text x="455.80" y="431.50" font-size="4.6" fill="#444" text-anchor="start" font-family="'Liberation Sans', sans-serif" textLength="19.3" lengthAdjust="spacingAndGlyphs" stroke="#444" stroke-width="0.092" >0.04463</text>
<text x="455.80" y="454.90" font-size="4.6" fill="#444" text-anchor="start" font-family="'Liberation Sans', sans-serif" textLength="19.3" lengthAdjust="spacingAndGlyphs" stroke="#444" stroke-width="0.092" >0.02252</text>
<text x="496.20" y="441.80" font-size="4.6" fill="#333" text-anchor="middle" font-family="'Liberation Sans', sans-serif" textLength="14.2" lengthAdjust="spacingAndGlyphs" transform="rotate(90 496.20 441.80)" stroke="#333" stroke-width="0.092" dominant-baseline="middle">Pvalue</text>
<rect x="513.2" y="411.30" width="7" height="2.3" fill="#f41c24" stroke="#555" stroke-width="0.2"/>
<text x="520.80" y="414.10" font-size="4.8" fill="#555" text-anchor="start" font-family="'Liberation Sans', sans-serif" textLength="14.2" lengthAdjust="spacingAndGlyphs" stroke="#555" stroke-width="0.096" >nad41</text>
<rect x="513.2" y="417.30" width="7" height="2.3" fill="#232f8f" stroke="#555" stroke-width="0.2"/>
<text x="520.80" y="420.10" font-size="4.8" fill="#555" text-anchor="start" font-family="'Liberation Sans', sans-serif" textLength="14.2" lengthAdjust="spacingAndGlyphs" stroke="#555" stroke-width="0.096" >nad44</text>
<rect x="513.2" y="423.30" width="7" height="2.3" fill="#0f9a3f" stroke="#555" stroke-width="0.2"/>
<text x="520.80" y="426.10" font-size="4.8" fill="#555" text-anchor="start" font-family="'Liberation Sans', sans-serif" textLength="14.2" lengthAdjust="spacingAndGlyphs" stroke="#555" stroke-width="0.096" >nad47</text>
<rect x="513.2" y="429.30" width="7" height="2.3" fill="#ffea00" stroke="#555" stroke-width="0.2"/>
<text x="520.80" y="432.10" font-size="4.8" fill="#555" text-anchor="start" font-family="'Liberation Sans', sans-serif" textLength="14.2" lengthAdjust="spacingAndGlyphs" stroke="#555" stroke-width="0.096" >nad50</text>
<text x="27.40" y="252.50" font-size="10" fill="#505050" text-anchor="start" font-family="'Liberation Serif', serif" letter-spacing="0.5">(C)</text>
<path d="M67.04,357.54 A48.0,48.0 0 0 1 69.77,343.43 Q115.0,359.5 159.86,376.58 A48.0,48.0 0 0 1 152.42,389.56 Q115.0,359.5 67.04,357.54 Z" fill="#faf5ea" fill-opacity="0.72" stroke="#f1d9b0" stroke-width="0.4" stroke-opacity="0.8"/>
<path d="M98.23,314.53 A48.0,48.0 0 0 1 112.02,311.59 Q115.0,359.5 142.50,320.16 A48.0,48.0 0 0 1 152.67,329.76 Q115.0,359.5 98.23,314.53 Z" fill="#d5e4f1" fill-opacity="0.72" stroke="#78b2e2" stroke-width="0.4" stroke-opacity="0.4"/>
<path d="M79.87,392.21 A48.0,48.0 0 0 1 71.97,380.78 Q115.0,359.5 129.84,313.85 A48.0,48.0 0 0 1 142.50,320.16 Q115.0,359.5 79.87,392.21 Z" fill="#d5e4f1" fill-opacity="0.72" stroke="#78b2e2" stroke-width="0.4" stroke-opacity="0.4"/>
<path d="M113.28,407.47 A48.0,48.0 0 0 1 100.85,405.37 Q115.0,359.5 116.72,311.53 A48.0,48.0 0 0 1 129.84,313.85 Q115.0,359.5 113.28,407.47 Z" fill="#d5e4f1" fill-opacity="0.72" stroke="#78b2e2" stroke-width="0.4" stroke-opacity="0.4"/>
<path d="M71.34,339.56 A48.0,48.0 0 0 1 77.77,329.21 Q115.0,359.5 152.67,329.76 A48.0,48.0 0 0 1 158.91,340.10 Q115.0,359.5 71.34,339.56 Z" fill="#d5e4f1" fill-opacity="0.72" stroke="#78b2e2" stroke-width="0.4" stroke-opacity="0.4"/>
<path d="M82.29,324.37 A48.0,48.0 0 0 1 91.94,317.40 Q115.0,359.5 162.25,351.02 A48.0,48.0 0 0 1 162.91,362.42 Q115.0,359.5 82.29,324.37 Z" fill="#d5e4f1" fill-opacity="0.72" stroke="#78b2e2" stroke-width="0.4" stroke-opacity="0.4"/>
<path d="M70.03,376.27 A48.0,48.0 0 0 1 67.45,366.05 Q115.0,359.5 158.91,340.10 A48.0,48.0 0 0 1 162.25,351.02 Q115.0,359.5 70.03,376.27 Z" fill="#d5e4f1" fill-opacity="0.72" stroke="#78b2e2" stroke-width="0.4" stroke-opacity="0.4"/>
<path d="M95.06,403.16 A48.0,48.0 0 0 1 86.02,397.76 Q115.0,359.5 162.91,362.42 A48.0,48.0 0 0 1 161.04,373.09 Q115.0,359.5 95.06,403.16 Z" fill="#d5e4f1" fill-opacity="0.72" stroke="#78b2e2" stroke-width="0.4" stroke-opacity="0.4"/>
<path d="M91.94,317.40 A48.0,48.0 0 0 1 94.27,316.21 Q115.0,359.5 152.42,389.56 A48.0,48.0 0 0 1 150.75,391.52 Q115.0,359.5 91.94,317.40 Z" fill="#faf5ea" fill-opacity="0.72" stroke="#f1d9b0" stroke-width="0.4" stroke-opacity="0.8"/>
<path d="M67.45,366.05 A48.0,48.0 0 0 1 67.19,363.76 Q115.0,359.5 148.22,394.14 A48.0,48.0 0 0 1 146.26,395.93 Q115.0,359.5 67.45,366.05 Z" fill="#b8d4f0" fill-opacity="0.72" stroke="#3d86d8" stroke-width="0.4" stroke-opacity="0.8"/>
<path d="M77.77,329.21 A48.0,48.0 0 0 1 78.85,327.92 Q115.0,359.5 146.26,395.93 A48.0,48.0 0 0 1 144.89,397.06 Q115.0,359.5 77.77,329.21 Z" fill="#b8d4f0" fill-opacity="0.72" stroke="#3d86d8" stroke-width="0.4" stroke-opacity="0.8"/>
<path d="M86.02,397.76 A48.0,48.0 0 0 1 84.74,396.76 Q115.0,359.5 143.13,398.40 A48.0,48.0 0 0 1 141.67,399.41 Q115.0,359.5 86.02,397.76 Z" fill="#b8d4f0" fill-opacity="0.72" stroke="#3d86d8" stroke-width="0.4" stroke-opacity="0.8"/>
<path d="M84.74,396.76 A48.0,48.0 0 0 1 83.50,395.72 Q115.0,359.5 136.36,402.49 A48.0,48.0 0 0 1 134.80,403.23 Q115.0,359.5 84.74,396.76 Z" fill="#b6e6f5" fill-opacity="0.72" stroke="#18b0e0" stroke-width="0.4" stroke-opacity="0.8"/>
<path d="M100.85,405.37 A48.0,48.0 0 0 1 99.72,405.00 Q115.0,359.5 144.19,397.60 A48.0,48.0 0 0 1 143.13,398.40 Q115.0,359.5 100.85,405.37 Z" fill="#b8d4f0" fill-opacity="0.72" stroke="#3d86d8" stroke-width="0.4" stroke-opacity="0.8"/>
<path d="M67.19,363.76 A48.0,48.0 0 0 1 67.10,362.60 Q115.0,359.5 138.27,401.48 A48.0,48.0 0 0 1 137.13,402.09 Q115.0,359.5 67.19,363.76 Z" fill="#b6e6f5" fill-opacity="0.72" stroke="#18b0e0" stroke-width="0.4" stroke-opacity="0.8"/>
<path d="M94.27,316.21 A48.0,48.0 0 0 1 95.06,315.84 Q115.0,359.5 144.89,397.06 A48.0,48.0 0 0 1 144.19,397.60 Q115.0,359.5 94.27,316.21 Z" fill="#b8d4f0" fill-opacity="0.72" stroke="#3d86d8" stroke-width="0.4" stroke-opacity="0.8"/>
<path d="M78.85,327.92 A48.0,48.0 0 0 1 79.41,327.29 Q115.0,359.5 134.01,403.58 A48.0,48.0 0 0 1 133.21,403.91 Q115.0,359.5 78.85,327.92 Z" fill="#b6e6f5" fill-opacity="0.72" stroke="#18b0e0" stroke-width="0.4" stroke-opacity="0.8"/>
<path d="M112.02,311.59 A48.0,48.0 0 0 1 112.86,311.55 Q115.0,359.5 141.67,399.41 A48.0,48.0 0 0 1 140.93,399.89 Q115.0,359.5 112.02,311.59 Z" fill="#b8d4f0" fill-opacity="0.72" stroke="#3d86d8" stroke-width="0.4" stroke-opacity="0.8"/>
<path d="M71.97,380.78 A48.0,48.0 0 0 1 71.62,380.04 Q115.0,359.5 134.80,403.23 A48.0,48.0 0 0 1 134.01,403.58 Q115.0,359.5 71.97,380.78 Z" fill="#b6e6f5" fill-opacity="0.72" stroke="#18b0e0" stroke-width="0.4" stroke-opacity="0.8"/>
<path d="M83.50,395.72 A48.0,48.0 0 0 1 82.89,395.18 Q115.0,359.5 129.35,405.30 A48.0,48.0 0 0 1 128.55,405.55 Q115.0,359.5 83.50,395.72 Z" fill="#f8c8c8" fill-opacity="0.72" stroke="#ec6a6a" stroke-width="0.4" stroke-opacity="0.8"/>
<path d="M99.72,405.00 A48.0,48.0 0 0 1 98.97,404.74 Q115.0,359.5 137.13,402.09 A48.0,48.0 0 0 1 136.36,402.49 Q115.0,359.5 99.72,405.00 Z" fill="#b6e6f5" fill-opacity="0.72" stroke="#18b0e0" stroke-width="0.4" stroke-opacity="0.8"/>
<path d="M79.41,327.29 A48.0,48.0 0 0 1 79.87,326.79 Q115.0,359.5 129.99,405.10 A48.0,48.0 0 0 1 129.35,405.30 Q115.0,359.5 79.41,327.29 Z" fill="#f8c8c8" fill-opacity="0.72" stroke="#ec6a6a" stroke-width="0.4" stroke-opacity="0.8"/>
<path d="M67.10,362.60 A48.0,48.0 0 0 1 67.06,361.99 Q115.0,359.5 130.63,404.88 A48.0,48.0 0 0 1 129.99,405.10 Q115.0,359.5 67.10,362.60 Z" fill="#f8c8c8" fill-opacity="0.72" stroke="#ec6a6a" stroke-width="0.4" stroke-opacity="0.8"/>
<path d="M112.86,311.55 A48.0,48.0 0 0 1 113.28,311.53 Q115.0,359.5 128.55,405.55 A48.0,48.0 0 0 1 128.15,405.66 Q115.0,359.5 112.86,311.55 Z" fill="#f8c8c8" fill-opacity="0.72" stroke="#ec6a6a" stroke-width="0.4" stroke-opacity="0.8"/>
<path d="M82.89,395.18 A48.0,48.0 0 0 1 82.59,394.91 Q115.0,359.5 124.73,406.50 A48.0,48.0 0 0 1 124.32,406.59 Q115.0,359.5 82.89,395.18 Z" fill="#f0d0ec" fill-opacity="0.72" stroke="#d27cc4" stroke-width="0.4" stroke-opacity="0.8"/>
<path d="M82.59,394.91 A48.0,48.0 0 0 1 82.29,394.63 Q115.0,359.5 120.52,407.18 A48.0,48.0 0 0 1 120.10,407.23 Q115.0,359.5 82.59,394.91 Z" fill="#c0ece0" fill-opacity="0.72" stroke="#22b090" stroke-width="0.4" stroke-opacity="0.8"/>
<path d="M71.62,380.04 A48.0,48.0 0 0 1 71.48,379.74 Q115.0,359.5 124.32,406.59 A48.0,48.0 0 0 1 123.99,406.65 Q115.0,359.5 71.62,380.04 Z" fill="#f0d0ec" fill-opacity="0.72" stroke="#d27cc4" stroke-width="0.4" stroke-opacity="0.8"/>
<path d="M71.48,379.74 A48.0,48.0 0 0 1 71.34,379.44 Q115.0,359.5 116.68,407.47 A48.0,48.0 0 0 1 116.34,407.48 Q115.0,359.5 71.48,379.74 Z" fill="#dcd4f2" fill-opacity="0.72" stroke="#9c88d8" stroke-width="0.4" stroke-opacity="0.8"/>
<path d="M98.97,404.74 A48.0,48.0 0 0 1 98.67,404.64 Q115.0,359.5 128.15,405.66 A48.0,48.0 0 0 1 127.83,405.75 Q115.0,359.5 98.97,404.74 Z" fill="#f8c8c8" fill-opacity="0.72" stroke="#ec6a6a" stroke-width="0.4" stroke-opacity="0.8"/>
<path d="M67.05,361.76 A48.0,48.0 0 0 1 67.04,361.45 Q115.0,359.5 120.10,407.23 A48.0,48.0 0 0 1 119.77,407.26 Q115.0,359.5 67.05,361.76 Z" fill="#c0ece0" fill-opacity="0.72" stroke="#22b090" stroke-width="0.4" stroke-opacity="0.8"/>
<path d="M67.03,357.78 A48.0,48.0 0 0 1 67.04,357.54 Q115.0,359.5 161.04,373.09 A48.0,48.0 0 0 1 160.96,373.33 Q115.0,359.5 67.03,357.78 Z" fill="#d5e4f1" fill-opacity="0.72" stroke="#78b2e2" stroke-width="0.4" stroke-opacity="0.4"/>
<path d="M69.77,343.43 A48.0,48.0 0 0 1 69.85,343.19 Q115.0,359.5 123.75,406.70 A48.0,48.0 0 0 1 123.50,406.74 Q115.0,359.5 69.77,343.43 Z" fill="#f0d0ec" fill-opacity="0.72" stroke="#d27cc4" stroke-width="0.4" stroke-opacity="0.8"/>
<path d="M69.85,343.19 A48.0,48.0 0 0 1 69.94,342.96 Q115.0,359.5 119.52,407.29 A48.0,48.0 0 0 1 119.27,407.31 Q115.0,359.5 69.85,343.19 Z" fill="#c0ece0" fill-opacity="0.72" stroke="#22b090" stroke-width="0.4" stroke-opacity="0.8"/>
<path d="M69.94,342.96 A48.0,48.0 0 0 1 70.03,342.73 Q115.0,359.5 116.34,407.48 A48.0,48.0 0 0 1 116.09,407.49 Q115.0,359.5 69.94,342.96 Z" fill="#dcd4f2" fill-opacity="0.72" stroke="#9c88d8" stroke-width="0.4" stroke-opacity="0.8"/>
<path d="M98.67,404.64 A48.0,48.0 0 0 1 98.45,404.56 Q115.0,359.5 119.77,407.26 A48.0,48.0 0 0 1 119.52,407.29 Q115.0,359.5 98.67,404.64 Z" fill="#c0ece0" fill-opacity="0.72" stroke="#22b090" stroke-width="0.4" stroke-opacity="0.8"/>
<path d="M98.45,404.56 A48.0,48.0 0 0 1 98.23,404.47 Q115.0,359.5 115.84,407.49 A48.0,48.0 0 0 1 115.59,407.50 Q115.0,359.5 98.45,404.56 Z" fill="#dcd4f2" fill-opacity="0.72" stroke="#9c88d8" stroke-width="0.4" stroke-opacity="0.8"/>
<path d="M67.06,361.99 A48.0,48.0 0 0 1 67.05,361.76 Q115.0,359.5 123.99,406.65 A48.0,48.0 0 0 1 123.75,406.70 Q115.0,359.5 67.06,361.99 Z" fill="#f0d0ec" fill-opacity="0.72" stroke="#d27cc4" stroke-width="0.4" stroke-opacity="0.8"/>
<path d="M67.04,361.45 A48.0,48.0 0 0 1 67.03,361.22 Q115.0,359.5 116.09,407.49 A48.0,48.0 0 0 1 115.84,407.49 Q115.0,359.5 67.04,361.45 Z" fill="#dcd4f2" fill-opacity="0.72" stroke="#9c88d8" stroke-width="0.4" stroke-opacity="0.8"/>
<path d="M113.12,411.97 A52.5,52.5 0 0 1 96.66,408.69 L97.43,406.63 A50.3,50.3 0 0 0 113.20,409.77 Z" fill="#f07068"/>
<path d="M93.19,407.25 A52.5,52.5 0 0 1 79.23,397.93 L80.73,396.32 A50.3,50.3 0 0 0 94.10,405.25 Z" fill="#f6a531"/>
<path d="M76.57,395.27 A52.5,52.5 0 0 1 67.25,381.31 L69.25,380.40 A50.3,50.3 0 0 0 78.18,393.77 Z" fill="#e8507a"/>
<path d="M65.81,377.84 A52.5,52.5 0 0 1 62.53,361.38 L64.73,361.30 A50.3,50.3 0 0 0 67.87,377.07 Z" fill="#f9c6c0"/>
<path d="M62.53,357.62 A52.5,52.5 0 0 1 65.81,341.16 L67.87,341.93 A50.3,50.3 0 0 0 64.73,357.70 Z" fill="#f7b733"/>
<path d="M67.25,337.69 A52.5,52.5 0 0 1 76.57,323.73 L78.18,325.23 A50.3,50.3 0 0 0 69.25,338.60 Z" fill="#e8505a"/>
<path d="M79.23,321.07 A52.5,52.5 0 0 1 93.19,311.75 L94.10,313.75 A50.3,50.3 0 0 0 80.73,322.68 Z" fill="#f5b5c5"/>
<path d="M96.66,310.31 A52.5,52.5 0 0 1 113.12,307.03 L113.20,309.23 A50.3,50.3 0 0 0 97.43,312.37 Z" fill="#9d80b4"/>
<path d="M116.88,307.03 A52.5,52.5 0 0 1 165.27,374.63 L163.17,374.00 A50.3,50.3 0 0 0 116.80,309.23 Z" fill="#a9c9e7"/>
<path d="M164.06,378.19 A52.5,52.5 0 0 1 154.11,394.53 L152.47,393.06 A50.3,50.3 0 0 0 162.01,377.40 Z" fill="#f7ebdc"/>
<path d="M151.34,397.39 A52.5,52.5 0 0 1 143.36,403.68 L142.17,401.83 A50.3,50.3 0 0 0 149.81,395.80 Z" fill="#4b93de"/>
<path d="M140.45,405.42 A52.5,52.5 0 0 1 134.92,408.07 L134.09,406.04 A50.3,50.3 0 0 0 139.39,403.49 Z" fill="#1fbbe6"/>
<path d="M132.09,409.14 A52.5,52.5 0 0 1 129.03,410.09 L128.44,407.97 A50.3,50.3 0 0 0 131.38,407.06 Z" fill="#f07a7a"/>
<path d="M125.65,410.91 A52.5,52.5 0 0 1 124.30,411.17 L123.91,409.01 A50.3,50.3 0 0 0 125.20,408.75 Z" fill="#de8fd0"/>
<path d="M121.03,411.65 A52.5,52.5 0 0 1 119.67,411.79 L119.47,409.60 A50.3,50.3 0 0 0 120.78,409.47 Z" fill="#2fbf9f"/>
<path d="M116.83,411.97 A52.5,52.5 0 0 1 115.64,412.00 L115.61,409.80 A50.3,50.3 0 0 0 116.76,409.77 Z" fill="#b0a0e0"/>
<path d="M113.23,409.07 A49.6,49.6 0 0 1 100.38,406.90 L100.70,405.84 A48.5,48.5 0 0 0 113.27,407.97 Z" fill="#a9c9e7" fill-opacity="0.8"/>
<path d="M100.38,406.90 A49.6,49.6 0 0 1 99.21,406.52 L99.56,405.48 A48.5,48.5 0 0 0 100.70,405.84 Z" fill="#4b93de" fill-opacity="0.8"/>
<path d="M99.21,406.52 A49.6,49.6 0 0 1 98.44,406.25 L98.81,405.22 A48.5,48.5 0 0 0 99.56,405.48 Z" fill="#1fbbe6" fill-opacity="0.8"/>
<path d="M98.44,406.25 A49.6,49.6 0 0 1 98.13,406.14 L98.50,405.11 A48.5,48.5 0 0 0 98.81,405.22 Z" fill="#f07a7a" fill-opacity="0.8"/>
<path d="M98.13,406.14 A49.6,49.6 0 0 1 97.90,406.06 L98.28,405.03 A48.5,48.5 0 0 0 98.50,405.11 Z" fill="#2fbf9f" fill-opacity="0.8"/>
<path d="M97.90,406.06 A49.6,49.6 0 0 1 97.67,405.97 L98.05,404.94 A48.5,48.5 0 0 0 98.28,405.03 Z" fill="#b0a0e0" fill-opacity="0.8"/>
<path d="M94.39,404.62 A49.6,49.6 0 0 1 85.05,399.04 L85.72,398.16 A48.5,48.5 0 0 0 94.85,403.62 Z" fill="#a9c9e7" fill-opacity="0.8"/>
<path d="M85.05,399.04 A49.6,49.6 0 0 1 83.73,398.00 L84.43,397.15 A48.5,48.5 0 0 0 85.72,398.16 Z" fill="#4b93de" fill-opacity="0.8"/>
<path d="M83.73,398.00 A49.6,49.6 0 0 1 82.45,396.93 L83.17,396.10 A48.5,48.5 0 0 0 84.43,397.15 Z" fill="#1fbbe6" fill-opacity="0.8"/>
<path d="M82.45,396.93 A49.6,49.6 0 0 1 81.82,396.37 L82.56,395.55 A48.5,48.5 0 0 0 83.17,396.10 Z" fill="#f07a7a" fill-opacity="0.8"/>
<path d="M81.82,396.37 A49.6,49.6 0 0 1 81.51,396.09 L82.26,395.28 A48.5,48.5 0 0 0 82.56,395.55 Z" fill="#de8fd0" fill-opacity="0.8"/>
<path d="M81.51,396.09 A49.6,49.6 0 0 1 81.20,395.80 L81.95,395.00 A48.5,48.5 0 0 0 82.26,395.28 Z" fill="#2fbf9f" fill-opacity="0.8"/>
<path d="M78.70,393.30 A49.6,49.6 0 0 1 70.54,381.49 L71.52,381.00 A48.5,48.5 0 0 0 79.50,392.55 Z" fill="#a9c9e7" fill-opacity="0.8"/>
<path d="M70.54,381.49 A49.6,49.6 0 0 1 70.17,380.72 L71.16,380.25 A48.5,48.5 0 0 0 71.52,381.00 Z" fill="#1fbbe6" fill-opacity="0.8"/>
<path d="M70.17,380.72 A49.6,49.6 0 0 1 70.03,380.42 L71.02,379.95 A48.5,48.5 0 0 0 71.16,380.25 Z" fill="#de8fd0" fill-opacity="0.8"/>
<path d="M70.03,380.42 A49.6,49.6 0 0 1 69.88,380.11 L70.88,379.65 A48.5,48.5 0 0 0 71.02,379.95 Z" fill="#b0a0e0" fill-opacity="0.8"/>
<path d="M68.53,376.83 A49.6,49.6 0 0 1 65.86,366.27 L66.95,366.12 A48.5,48.5 0 0 0 69.56,376.45 Z" fill="#a9c9e7" fill-opacity="0.8"/>
<path d="M65.86,366.27 A49.6,49.6 0 0 1 65.60,363.90 L66.69,363.80 A48.5,48.5 0 0 0 66.95,366.12 Z" fill="#4b93de" fill-opacity="0.8"/>
<path d="M65.60,363.90 A49.6,49.6 0 0 1 65.50,362.71 L66.60,362.63 A48.5,48.5 0 0 0 66.69,363.80 Z" fill="#1fbbe6" fill-opacity="0.8"/>
<path d="M65.50,362.71 A49.6,49.6 0 0 1 65.47,362.07 L66.57,362.01 A48.5,48.5 0 0 0 66.60,362.63 Z" fill="#f07a7a" fill-opacity="0.8"/>
<path d="M65.47,362.07 A49.6,49.6 0 0 1 65.45,361.83 L66.55,361.78 A48.5,48.5 0 0 0 66.57,362.01 Z" fill="#de8fd0" fill-opacity="0.8"/>
<path d="M65.45,361.83 A49.6,49.6 0 0 1 65.44,361.51 L66.54,361.47 A48.5,48.5 0 0 0 66.55,361.78 Z" fill="#2fbf9f" fill-opacity="0.8"/>
<path d="M65.44,361.51 A49.6,49.6 0 0 1 65.43,361.27 L66.53,361.23 A48.5,48.5 0 0 0 66.54,361.47 Z" fill="#b0a0e0" fill-opacity="0.8"/>
<path d="M65.43,357.73 A49.6,49.6 0 0 1 65.44,357.47 L66.54,357.52 A48.5,48.5 0 0 0 66.53,357.77 Z" fill="#a9c9e7" fill-opacity="0.8"/>
<path d="M65.44,357.47 A49.6,49.6 0 0 1 68.26,342.89 L69.30,343.26 A48.5,48.5 0 0 0 66.54,357.52 Z" fill="#f7ebdc" fill-opacity="0.8"/>
<path d="M68.26,342.89 A49.6,49.6 0 0 1 68.35,342.65 L69.38,343.02 A48.5,48.5 0 0 0 69.30,343.26 Z" fill="#de8fd0" fill-opacity="0.8"/>
<path d="M68.35,342.65 A49.6,49.6 0 0 1 68.44,342.41 L69.47,342.79 A48.5,48.5 0 0 0 69.38,343.02 Z" fill="#2fbf9f" fill-opacity="0.8"/>
<path d="M68.44,342.41 A49.6,49.6 0 0 1 68.53,342.17 L69.56,342.55 A48.5,48.5 0 0 0 69.47,342.79 Z" fill="#b0a0e0" fill-opacity="0.8"/>
<path d="M69.88,338.89 A49.6,49.6 0 0 1 76.52,328.20 L77.38,328.89 A48.5,48.5 0 0 0 70.88,339.35 Z" fill="#a9c9e7" fill-opacity="0.8"/>
<path d="M76.52,328.20 A49.6,49.6 0 0 1 77.65,326.87 L78.47,327.59 A48.5,48.5 0 0 0 77.38,328.89 Z" fill="#4b93de" fill-opacity="0.8"/>
<path d="M77.65,326.87 A49.6,49.6 0 0 1 78.22,326.22 L79.04,326.96 A48.5,48.5 0 0 0 78.47,327.59 Z" fill="#1fbbe6" fill-opacity="0.8"/>
<path d="M78.22,326.22 A49.6,49.6 0 0 1 78.70,325.70 L79.50,326.45 A48.5,48.5 0 0 0 79.04,326.96 Z" fill="#f07a7a" fill-opacity="0.8"/>
<path d="M81.20,323.20 A49.6,49.6 0 0 1 91.17,316.00 L91.70,316.96 A48.5,48.5 0 0 0 81.95,324.00 Z" fill="#a9c9e7" fill-opacity="0.8"/>
<path d="M91.17,316.00 A49.6,49.6 0 0 1 93.58,314.77 L94.05,315.76 A48.5,48.5 0 0 0 91.70,316.96 Z" fill="#f7ebdc" fill-opacity="0.8"/>
<path d="M93.58,314.77 A49.6,49.6 0 0 1 94.39,314.38 L94.85,315.38 A48.5,48.5 0 0 0 94.05,315.76 Z" fill="#4b93de" fill-opacity="0.8"/>
<path d="M97.67,313.03 A49.6,49.6 0 0 1 111.92,310.00 L111.99,311.09 A48.5,48.5 0 0 0 98.05,314.06 Z" fill="#a9c9e7" fill-opacity="0.8"/>
<path d="M111.92,310.00 A49.6,49.6 0 0 1 112.79,309.95 L112.84,311.05 A48.5,48.5 0 0 0 111.99,311.09 Z" fill="#4b93de" fill-opacity="0.8"/>
<path d="M112.79,309.95 A49.6,49.6 0 0 1 113.23,309.93 L113.27,311.03 A48.5,48.5 0 0 0 112.84,311.05 Z" fill="#f07a7a" fill-opacity="0.8"/>
<path d="M116.77,309.93 A49.6,49.6 0 0 1 130.33,312.33 L129.99,313.37 A48.5,48.5 0 0 0 116.73,311.03 Z" fill="#f07068" fill-opacity="0.8"/>
<path d="M130.33,312.33 A49.6,49.6 0 0 1 143.42,318.85 L142.79,319.75 A48.5,48.5 0 0 0 129.99,313.37 Z" fill="#e8507a" fill-opacity="0.8"/>
<path d="M143.42,318.85 A49.6,49.6 0 0 1 153.93,328.76 L153.07,329.45 A48.5,48.5 0 0 0 142.79,319.75 Z" fill="#9d80b4" fill-opacity="0.8"/>
<path d="M153.93,328.76 A49.6,49.6 0 0 1 160.37,339.46 L159.36,339.90 A48.5,48.5 0 0 0 153.07,329.45 Z" fill="#e8505a" fill-opacity="0.8"/>
<path d="M160.37,339.46 A49.6,49.6 0 0 1 163.82,350.74 L162.74,350.93 A48.5,48.5 0 0 0 159.36,339.90 Z" fill="#f9c6c0" fill-opacity="0.8"/>
<path d="M163.82,350.74 A49.6,49.6 0 0 1 164.51,362.52 L163.41,362.45 A48.5,48.5 0 0 0 162.74,350.93 Z" fill="#f5b5c5" fill-opacity="0.8"/>
<path d="M164.51,362.52 A49.6,49.6 0 0 1 162.57,373.55 L161.51,373.23 A48.5,48.5 0 0 0 163.41,362.45 Z" fill="#f6a531" fill-opacity="0.8"/>
<path d="M162.57,373.55 A49.6,49.6 0 0 1 162.50,373.79 L161.44,373.48 A48.5,48.5 0 0 0 161.51,373.23 Z" fill="#f7b733" fill-opacity="0.8"/>
<path d="M161.35,377.15 A49.6,49.6 0 0 1 153.67,390.56 L152.81,389.87 A48.5,48.5 0 0 0 160.32,376.76 Z" fill="#f7b733" fill-opacity="0.8"/>
<path d="M153.67,390.56 A49.6,49.6 0 0 1 151.95,392.59 L151.13,391.86 A48.5,48.5 0 0 0 152.81,389.87 Z" fill="#f5b5c5" fill-opacity="0.8"/>
<path d="M149.33,395.30 A49.6,49.6 0 0 1 147.30,397.14 L146.58,396.31 A48.5,48.5 0 0 0 148.57,394.51 Z" fill="#f9c6c0" fill-opacity="0.8"/>
<path d="M147.30,397.14 A49.6,49.6 0 0 1 145.89,398.31 L145.20,397.45 A48.5,48.5 0 0 0 146.58,396.31 Z" fill="#e8505a" fill-opacity="0.8"/>
<path d="M145.89,398.31 A49.6,49.6 0 0 1 145.17,398.87 L144.50,398.00 A48.5,48.5 0 0 0 145.20,397.45 Z" fill="#f5b5c5" fill-opacity="0.8"/>
<path d="M145.17,398.87 A49.6,49.6 0 0 1 144.06,399.69 L143.42,398.80 A48.5,48.5 0 0 0 144.50,398.00 Z" fill="#f07068" fill-opacity="0.8"/>
<path d="M144.06,399.69 A49.6,49.6 0 0 1 142.56,400.74 L141.95,399.82 A48.5,48.5 0 0 0 143.42,398.80 Z" fill="#f6a531" fill-opacity="0.8"/>
<path d="M142.56,400.74 A49.6,49.6 0 0 1 141.80,401.24 L141.20,400.31 A48.5,48.5 0 0 0 141.95,399.82 Z" fill="#9d80b4" fill-opacity="0.8"/>
<path d="M139.05,402.88 A49.6,49.6 0 0 1 137.87,403.51 L137.36,402.54 A48.5,48.5 0 0 0 138.51,401.92 Z" fill="#f9c6c0" fill-opacity="0.8"/>
<path d="M137.87,403.51 A49.6,49.6 0 0 1 137.07,403.92 L136.58,402.93 A48.5,48.5 0 0 0 137.36,402.54 Z" fill="#f07068" fill-opacity="0.8"/>
<path d="M137.07,403.92 A49.6,49.6 0 0 1 135.46,404.68 L135.01,403.68 A48.5,48.5 0 0 0 136.58,402.93 Z" fill="#f6a531" fill-opacity="0.8"/>
<path d="M135.46,404.68 A49.6,49.6 0 0 1 134.64,405.04 L134.21,404.03 A48.5,48.5 0 0 0 135.01,403.68 Z" fill="#e8507a" fill-opacity="0.8"/>
<path d="M134.64,405.04 A49.6,49.6 0 0 1 133.82,405.39 L133.40,404.37 A48.5,48.5 0 0 0 134.21,404.03 Z" fill="#e8505a" fill-opacity="0.8"/>
<path d="M131.15,406.40 A49.6,49.6 0 0 1 130.49,406.62 L130.15,405.57 A48.5,48.5 0 0 0 130.79,405.36 Z" fill="#f9c6c0" fill-opacity="0.8"/>
<path d="M130.49,406.62 A49.6,49.6 0 0 1 129.83,406.83 L129.50,405.78 A48.5,48.5 0 0 0 130.15,405.57 Z" fill="#e8505a" fill-opacity="0.8"/>
<path d="M129.83,406.83 A49.6,49.6 0 0 1 129.00,407.08 L128.69,406.03 A48.5,48.5 0 0 0 129.50,405.78 Z" fill="#f6a531" fill-opacity="0.8"/>
<path d="M129.00,407.08 A49.6,49.6 0 0 1 128.59,407.20 L128.29,406.14 A48.5,48.5 0 0 0 128.69,406.03 Z" fill="#9d80b4" fill-opacity="0.8"/>
<path d="M128.59,407.20 A49.6,49.6 0 0 1 128.26,407.30 L127.96,406.24 A48.5,48.5 0 0 0 128.29,406.14 Z" fill="#f07068" fill-opacity="0.8"/>
<path d="M125.06,408.07 A49.6,49.6 0 0 1 124.63,408.16 L124.42,407.08 A48.5,48.5 0 0 0 124.84,406.99 Z" fill="#f6a531" fill-opacity="0.8"/>
<path d="M124.63,408.16 A49.6,49.6 0 0 1 124.29,408.22 L124.09,407.14 A48.5,48.5 0 0 0 124.42,407.08 Z" fill="#e8507a" fill-opacity="0.8"/>
<path d="M124.29,408.22 A49.6,49.6 0 0 1 124.04,408.27 L123.84,407.19 A48.5,48.5 0 0 0 124.09,407.14 Z" fill="#f9c6c0" fill-opacity="0.8"/>
<path d="M124.04,408.27 A49.6,49.6 0 0 1 123.78,408.32 L123.59,407.23 A48.5,48.5 0 0 0 123.84,407.19 Z" fill="#f7b733" fill-opacity="0.8"/>
<path d="M120.70,408.77 A49.6,49.6 0 0 1 120.27,408.82 L120.15,407.73 A48.5,48.5 0 0 0 120.57,407.68 Z" fill="#f6a531" fill-opacity="0.8"/>
<path d="M120.27,408.82 A49.6,49.6 0 0 1 119.93,408.85 L119.82,407.76 A48.5,48.5 0 0 0 120.15,407.73 Z" fill="#f9c6c0" fill-opacity="0.8"/>
<path d="M119.93,408.85 A49.6,49.6 0 0 1 119.67,408.88 L119.56,407.78 A48.5,48.5 0 0 0 119.82,407.76 Z" fill="#f07068" fill-opacity="0.8"/>
<path d="M119.67,408.88 A49.6,49.6 0 0 1 119.41,408.90 L119.31,407.81 A48.5,48.5 0 0 0 119.56,407.78 Z" fill="#f7b733" fill-opacity="0.8"/>
<path d="M116.73,409.07 A49.6,49.6 0 0 1 116.38,409.08 L116.35,407.98 A48.5,48.5 0 0 0 116.69,407.97 Z" fill="#e8507a" fill-opacity="0.8"/>
<path d="M116.38,409.08 A49.6,49.6 0 0 1 116.13,409.09 L116.10,407.99 A48.5,48.5 0 0 0 116.35,407.98 Z" fill="#f7b733" fill-opacity="0.8"/>
<path d="M116.13,409.09 A49.6,49.6 0 0 1 115.87,409.09 L115.85,407.99 A48.5,48.5 0 0 0 116.10,407.99 Z" fill="#f9c6c0" fill-opacity="0.8"/>
<path d="M115.87,409.09 A49.6,49.6 0 0 1 115.61,409.10 L115.59,408.00 A48.5,48.5 0 0 0 115.85,407.99 Z" fill="#f07068" fill-opacity="0.8"/>
<path d="M112.22,437.25 A77.8,77.8 0 0 1 87.82,432.40 L88.66,430.15 A75.4,75.4 0 0 0 112.30,434.85 Z" fill="#f07068"/>
<path d="M112.40,432.25 A72.8,72.8 0 0 1 89.56,427.71 L90.09,426.31 A71.3,71.3 0 0 0 112.45,430.75 Z" fill="#a9c9e7"/>
<path d="M91.12,428.27 A72.8,72.8 0 0 1 89.56,427.71 L90.09,426.31 A71.3,71.3 0 0 0 91.61,426.85 Z" fill="#1fa8e0"/>
<line x1="112.52" y1="428.66" x2="112.45" y2="430.75" stroke="#5d7088" stroke-width="0.45"/>
<line x1="110.94" y1="428.58" x2="110.82" y2="430.68" stroke="#5d7088" stroke-width="0.45"/>
<line x1="109.36" y1="428.47" x2="109.18" y2="430.56" stroke="#5d7088" stroke-width="0.45"/>
<line x1="107.78" y1="428.32" x2="107.56" y2="430.41" stroke="#5d7088" stroke-width="0.45"/>
<line x1="106.20" y1="428.14" x2="105.93" y2="430.22" stroke="#5d7088" stroke-width="0.45"/>
<line x1="104.63" y1="427.92" x2="104.31" y2="429.99" stroke="#5d7088" stroke-width="0.45"/>
<line x1="103.06" y1="427.66" x2="102.70" y2="429.73" stroke="#5d7088" stroke-width="0.45"/>
<line x1="101.50" y1="427.37" x2="101.09" y2="429.43" stroke="#5d7088" stroke-width="0.45"/>
<line x1="99.95" y1="427.04" x2="99.49" y2="429.09" stroke="#5d7088" stroke-width="0.45"/>
<line x1="98.40" y1="426.68" x2="97.90" y2="428.72" stroke="#5d7088" stroke-width="0.45"/>
<line x1="96.86" y1="426.28" x2="96.31" y2="428.31" stroke="#5d7088" stroke-width="0.45"/>
<line x1="95.34" y1="425.85" x2="94.74" y2="427.86" stroke="#5d7088" stroke-width="0.45"/>
<line x1="93.82" y1="425.38" x2="93.18" y2="427.38" stroke="#5d7088" stroke-width="0.45"/>
<line x1="92.32" y1="424.88" x2="91.63" y2="426.86" stroke="#5d7088" stroke-width="0.45"/>
<line x1="90.82" y1="424.34" x2="90.09" y2="426.31" stroke="#5d7088" stroke-width="0.45"/>
<path d="M82.68,430.27 A77.8,77.8 0 0 1 61.99,416.45 L63.63,414.69 A75.4,75.4 0 0 0 83.67,428.08 Z" fill="#f6a531"/>
<path d="M84.75,425.72 A72.8,72.8 0 0 1 65.40,412.79 L66.42,411.69 A71.3,71.3 0 0 0 85.38,424.35 Z" fill="#a9c9e7"/>
<path d="M66.62,413.90 A72.8,72.8 0 0 1 65.40,412.79 L66.42,411.69 A71.3,71.3 0 0 0 67.62,412.78 Z" fill="#1fa8e0"/>
<line x1="86.25" y1="422.44" x2="85.38" y2="424.35" stroke="#5d7088" stroke-width="0.45"/>
<line x1="84.81" y1="421.77" x2="83.90" y2="423.66" stroke="#5d7088" stroke-width="0.45"/>
<line x1="83.39" y1="421.06" x2="82.43" y2="422.93" stroke="#5d7088" stroke-width="0.45"/>
<line x1="81.99" y1="420.32" x2="80.99" y2="422.16" stroke="#5d7088" stroke-width="0.45"/>
<line x1="80.60" y1="419.55" x2="79.56" y2="421.37" stroke="#5d7088" stroke-width="0.45"/>
<line x1="79.23" y1="418.74" x2="78.15" y2="420.54" stroke="#5d7088" stroke-width="0.45"/>
<line x1="77.88" y1="417.90" x2="76.76" y2="419.68" stroke="#5d7088" stroke-width="0.45"/>
<line x1="76.55" y1="417.04" x2="75.39" y2="418.78" stroke="#5d7088" stroke-width="0.45"/>
<line x1="75.24" y1="416.14" x2="74.04" y2="417.86" stroke="#5d7088" stroke-width="0.45"/>
<line x1="73.96" y1="415.21" x2="72.71" y2="416.90" stroke="#5d7088" stroke-width="0.45"/>
<line x1="72.69" y1="414.26" x2="71.41" y2="415.92" stroke="#5d7088" stroke-width="0.45"/>
<line x1="71.44" y1="413.27" x2="70.12" y2="414.90" stroke="#5d7088" stroke-width="0.45"/>
<line x1="70.22" y1="412.26" x2="68.86" y2="413.86" stroke="#5d7088" stroke-width="0.45"/>
<line x1="69.02" y1="411.22" x2="67.63" y2="412.79" stroke="#5d7088" stroke-width="0.45"/>
<line x1="67.85" y1="410.15" x2="66.42" y2="411.69" stroke="#5d7088" stroke-width="0.45"/>
<path d="M58.05,412.51 A77.8,77.8 0 0 1 44.23,391.82 L46.42,390.83 A75.4,75.4 0 0 0 59.81,410.87 Z" fill="#e8507a"/>
<path d="M61.71,409.10 A72.8,72.8 0 0 1 48.78,389.75 L50.15,389.12 A71.3,71.3 0 0 0 62.81,408.08 Z" fill="#a9c9e7"/>
<path d="M49.48,391.24 A72.8,72.8 0 0 1 48.78,389.75 L50.15,389.12 A71.3,71.3 0 0 0 50.83,390.59 Z" fill="#1fa8e0"/>
<line x1="64.35" y1="406.65" x2="62.81" y2="408.08" stroke="#5d7088" stroke-width="0.45"/>
<line x1="63.28" y1="405.48" x2="61.71" y2="406.87" stroke="#5d7088" stroke-width="0.45"/>
<line x1="62.24" y1="404.28" x2="60.64" y2="405.64" stroke="#5d7088" stroke-width="0.45"/>
<line x1="61.23" y1="403.06" x2="59.60" y2="404.38" stroke="#5d7088" stroke-width="0.45"/>
<line x1="60.24" y1="401.81" x2="58.58" y2="403.09" stroke="#5d7088" stroke-width="0.45"/>
<line x1="59.29" y1="400.54" x2="57.60" y2="401.79" stroke="#5d7088" stroke-width="0.45"/>
<line x1="58.36" y1="399.26" x2="56.64" y2="400.46" stroke="#5d7088" stroke-width="0.45"/>
<line x1="57.46" y1="397.95" x2="55.72" y2="399.11" stroke="#5d7088" stroke-width="0.45"/>
<line x1="56.60" y1="396.62" x2="54.82" y2="397.74" stroke="#5d7088" stroke-width="0.45"/>
<line x1="55.76" y1="395.27" x2="53.96" y2="396.35" stroke="#5d7088" stroke-width="0.45"/>
<line x1="54.95" y1="393.90" x2="53.13" y2="394.94" stroke="#5d7088" stroke-width="0.45"/>
<line x1="54.18" y1="392.51" x2="52.34" y2="393.51" stroke="#5d7088" stroke-width="0.45"/>
<line x1="53.44" y1="391.11" x2="51.57" y2="392.07" stroke="#5d7088" stroke-width="0.45"/>
<line x1="52.73" y1="389.69" x2="50.84" y2="390.60" stroke="#5d7088" stroke-width="0.45"/>
<line x1="52.06" y1="388.25" x2="50.15" y2="389.12" stroke="#5d7088" stroke-width="0.45"/>
<path d="M42.10,386.68 A77.8,77.8 0 0 1 37.25,362.28 L39.65,362.20 A75.4,75.4 0 0 0 44.35,385.84 Z" fill="#f9c6c0"/>
<path d="M46.79,384.94 A72.8,72.8 0 0 1 42.25,362.10 L43.75,362.05 A71.3,71.3 0 0 0 48.19,384.41 Z" fill="#a9c9e7"/>
<path d="M42.32,363.75 A72.8,72.8 0 0 1 42.25,362.10 L43.75,362.05 A71.3,71.3 0 0 0 43.82,363.67 Z" fill="#1fa8e0"/>
<line x1="50.16" y1="383.68" x2="48.19" y2="384.41" stroke="#5d7088" stroke-width="0.45"/>
<line x1="49.62" y1="382.18" x2="47.64" y2="382.87" stroke="#5d7088" stroke-width="0.45"/>
<line x1="49.12" y1="380.68" x2="47.12" y2="381.32" stroke="#5d7088" stroke-width="0.45"/>
<line x1="48.65" y1="379.16" x2="46.64" y2="379.76" stroke="#5d7088" stroke-width="0.45"/>
<line x1="48.22" y1="377.64" x2="46.19" y2="378.19" stroke="#5d7088" stroke-width="0.45"/>
<line x1="47.82" y1="376.10" x2="45.78" y2="376.60" stroke="#5d7088" stroke-width="0.45"/>
<line x1="47.46" y1="374.55" x2="45.41" y2="375.01" stroke="#5d7088" stroke-width="0.45"/>
<line x1="47.13" y1="373.00" x2="45.07" y2="373.41" stroke="#5d7088" stroke-width="0.45"/>
<line x1="46.84" y1="371.44" x2="44.77" y2="371.80" stroke="#5d7088" stroke-width="0.45"/>
<line x1="46.58" y1="369.87" x2="44.51" y2="370.19" stroke="#5d7088" stroke-width="0.45"/>
<line x1="46.36" y1="368.30" x2="44.28" y2="368.57" stroke="#5d7088" stroke-width="0.45"/>
<line x1="46.18" y1="366.72" x2="44.09" y2="366.94" stroke="#5d7088" stroke-width="0.45"/>
<line x1="46.03" y1="365.14" x2="43.94" y2="365.32" stroke="#5d7088" stroke-width="0.45"/>
<line x1="45.92" y1="363.56" x2="43.82" y2="363.68" stroke="#5d7088" stroke-width="0.45"/>
<line x1="45.84" y1="361.98" x2="43.75" y2="362.05" stroke="#5d7088" stroke-width="0.45"/>
<path d="M37.25,356.72 A77.8,77.8 0 0 1 42.10,332.32 L44.35,333.16 A75.4,75.4 0 0 0 39.65,356.80 Z" fill="#f7b733"/>
<path d="M42.25,356.90 A72.8,72.8 0 0 1 46.79,334.06 L48.19,334.59 A71.3,71.3 0 0 0 43.75,356.95 Z" fill="#a9c9e7"/>
<path d="M46.23,335.62 A72.8,72.8 0 0 1 46.79,334.06 L48.19,334.59 A71.3,71.3 0 0 0 47.65,336.11 Z" fill="#1fa8e0"/>
<line x1="45.84" y1="357.02" x2="43.75" y2="356.95" stroke="#5d7088" stroke-width="0.45"/>
<line x1="45.92" y1="355.44" x2="43.82" y2="355.32" stroke="#5d7088" stroke-width="0.45"/>
<line x1="46.03" y1="353.86" x2="43.94" y2="353.68" stroke="#5d7088" stroke-width="0.45"/>
<line x1="46.18" y1="352.28" x2="44.09" y2="352.06" stroke="#5d7088" stroke-width="0.45"/>
<line x1="46.36" y1="350.70" x2="44.28" y2="350.43" stroke="#5d7088" stroke-width="0.45"/>
<line x1="46.58" y1="349.13" x2="44.51" y2="348.81" stroke="#5d7088" stroke-width="0.45"/>
<line x1="46.84" y1="347.56" x2="44.77" y2="347.20" stroke="#5d7088" stroke-width="0.45"/>
<line x1="47.13" y1="346.00" x2="45.07" y2="345.59" stroke="#5d7088" stroke-width="0.45"/>
<line x1="47.46" y1="344.45" x2="45.41" y2="343.99" stroke="#5d7088" stroke-width="0.45"/>
<line x1="47.82" y1="342.90" x2="45.78" y2="342.40" stroke="#5d7088" stroke-width="0.45"/>
<line x1="48.22" y1="341.36" x2="46.19" y2="340.81" stroke="#5d7088" stroke-width="0.45"/>
<line x1="48.65" y1="339.84" x2="46.64" y2="339.24" stroke="#5d7088" stroke-width="0.45"/>
<line x1="49.12" y1="338.32" x2="47.12" y2="337.68" stroke="#5d7088" stroke-width="0.45"/>
<line x1="49.62" y1="336.82" x2="47.64" y2="336.13" stroke="#5d7088" stroke-width="0.45"/>
<line x1="50.16" y1="335.32" x2="48.19" y2="334.59" stroke="#5d7088" stroke-width="0.45"/>
<path d="M44.23,327.18 A77.8,77.8 0 0 1 58.05,306.49 L59.81,308.13 A75.4,75.4 0 0 0 46.42,328.17 Z" fill="#e8505a"/>
<path d="M48.78,329.25 A72.8,72.8 0 0 1 61.71,309.90 L62.81,310.92 A71.3,71.3 0 0 0 50.15,329.88 Z" fill="#a9c9e7"/>
<path d="M60.60,311.12 A72.8,72.8 0 0 1 61.71,309.90 L62.81,310.92 A71.3,71.3 0 0 0 61.72,312.12 Z" fill="#1fa8e0"/>
<line x1="52.06" y1="330.75" x2="50.15" y2="329.88" stroke="#5d7088" stroke-width="0.45"/>
<line x1="52.73" y1="329.31" x2="50.84" y2="328.40" stroke="#5d7088" stroke-width="0.45"/>
<line x1="53.44" y1="327.89" x2="51.57" y2="326.93" stroke="#5d7088" stroke-width="0.45"/>
<line x1="54.18" y1="326.49" x2="52.34" y2="325.49" stroke="#5d7088" stroke-width="0.45"/>
<line x1="54.95" y1="325.10" x2="53.13" y2="324.06" stroke="#5d7088" stroke-width="0.45"/>
<line x1="55.76" y1="323.73" x2="53.96" y2="322.65" stroke="#5d7088" stroke-width="0.45"/>
<line x1="56.60" y1="322.38" x2="54.82" y2="321.26" stroke="#5d7088" stroke-width="0.45"/>
<line x1="57.46" y1="321.05" x2="55.72" y2="319.89" stroke="#5d7088" stroke-width="0.45"/>
<line x1="58.36" y1="319.74" x2="56.64" y2="318.54" stroke="#5d7088" stroke-width="0.45"/>
<line x1="59.29" y1="318.46" x2="57.60" y2="317.21" stroke="#5d7088" stroke-width="0.45"/>
<line x1="60.24" y1="317.19" x2="58.58" y2="315.91" stroke="#5d7088" stroke-width="0.45"/>
<line x1="61.23" y1="315.94" x2="59.60" y2="314.62" stroke="#5d7088" stroke-width="0.45"/>
<line x1="62.24" y1="314.72" x2="60.64" y2="313.36" stroke="#5d7088" stroke-width="0.45"/>
<line x1="63.28" y1="313.52" x2="61.71" y2="312.13" stroke="#5d7088" stroke-width="0.45"/>
<line x1="64.35" y1="312.35" x2="62.81" y2="310.92" stroke="#5d7088" stroke-width="0.45"/>
<path d="M61.99,302.55 A77.8,77.8 0 0 1 82.68,288.73 L83.67,290.92 A75.4,75.4 0 0 0 63.63,304.31 Z" fill="#f5b5c5"/>
<path d="M65.40,306.21 A72.8,72.8 0 0 1 84.75,293.28 L85.38,294.65 A71.3,71.3 0 0 0 66.42,307.31 Z" fill="#a9c9e7"/>
<path d="M83.26,293.98 A72.8,72.8 0 0 1 84.75,293.28 L85.38,294.65 A71.3,71.3 0 0 0 83.91,295.33 Z" fill="#1fa8e0"/>
<line x1="67.85" y1="308.85" x2="66.42" y2="307.31" stroke="#5d7088" stroke-width="0.45"/>
<line x1="69.02" y1="307.78" x2="67.63" y2="306.21" stroke="#5d7088" stroke-width="0.45"/>
<line x1="70.22" y1="306.74" x2="68.86" y2="305.14" stroke="#5d7088" stroke-width="0.45"/>
<line x1="71.44" y1="305.73" x2="70.12" y2="304.10" stroke="#5d7088" stroke-width="0.45"/>
<line x1="72.69" y1="304.74" x2="71.41" y2="303.08" stroke="#5d7088" stroke-width="0.45"/>
<line x1="73.96" y1="303.79" x2="72.71" y2="302.10" stroke="#5d7088" stroke-width="0.45"/>
<line x1="75.24" y1="302.86" x2="74.04" y2="301.14" stroke="#5d7088" stroke-width="0.45"/>
<line x1="76.55" y1="301.96" x2="75.39" y2="300.22" stroke="#5d7088" stroke-width="0.45"/>
<line x1="77.88" y1="301.10" x2="76.76" y2="299.32" stroke="#5d7088" stroke-width="0.45"/>
<line x1="79.23" y1="300.26" x2="78.15" y2="298.46" stroke="#5d7088" stroke-width="0.45"/>
<line x1="80.60" y1="299.45" x2="79.56" y2="297.63" stroke="#5d7088" stroke-width="0.45"/>
<line x1="81.99" y1="298.68" x2="80.99" y2="296.84" stroke="#5d7088" stroke-width="0.45"/>
<line x1="83.39" y1="297.94" x2="82.43" y2="296.07" stroke="#5d7088" stroke-width="0.45"/>
<line x1="84.81" y1="297.23" x2="83.90" y2="295.34" stroke="#5d7088" stroke-width="0.45"/>
<line x1="86.25" y1="296.56" x2="85.38" y2="294.65" stroke="#5d7088" stroke-width="0.45"/>
<path d="M87.82,286.60 A77.8,77.8 0 0 1 112.22,281.75 L112.30,284.15 A75.4,75.4 0 0 0 88.66,288.85 Z" fill="#9d80b4"/>
<path d="M89.56,291.29 A72.8,72.8 0 0 1 112.40,286.75 L112.45,288.25 A71.3,71.3 0 0 0 90.09,292.69 Z" fill="#a9c9e7"/>
<path d="M110.75,286.82 A72.8,72.8 0 0 1 112.40,286.75 L112.45,288.25 A71.3,71.3 0 0 0 110.83,288.32 Z" fill="#1fa8e0"/>
<line x1="90.82" y1="294.66" x2="90.09" y2="292.69" stroke="#5d7088" stroke-width="0.45"/>
<line x1="92.32" y1="294.12" x2="91.63" y2="292.14" stroke="#5d7088" stroke-width="0.45"/>
<line x1="93.82" y1="293.62" x2="93.18" y2="291.62" stroke="#5d7088" stroke-width="0.45"/>
<line x1="95.34" y1="293.15" x2="94.74" y2="291.14" stroke="#5d7088" stroke-width="0.45"/>
<line x1="96.86" y1="292.72" x2="96.31" y2="290.69" stroke="#5d7088" stroke-width="0.45"/>
<line x1="98.40" y1="292.32" x2="97.90" y2="290.28" stroke="#5d7088" stroke-width="0.45"/>
<line x1="99.95" y1="291.96" x2="99.49" y2="289.91" stroke="#5d7088" stroke-width="0.45"/>
<line x1="101.50" y1="291.63" x2="101.09" y2="289.57" stroke="#5d7088" stroke-width="0.45"/>
<line x1="103.06" y1="291.34" x2="102.70" y2="289.27" stroke="#5d7088" stroke-width="0.45"/>
<line x1="104.63" y1="291.08" x2="104.31" y2="289.01" stroke="#5d7088" stroke-width="0.45"/>
<line x1="106.20" y1="290.86" x2="105.93" y2="288.78" stroke="#5d7088" stroke-width="0.45"/>
<line x1="107.78" y1="290.68" x2="107.56" y2="288.59" stroke="#5d7088" stroke-width="0.45"/>
<line x1="109.36" y1="290.53" x2="109.18" y2="288.44" stroke="#5d7088" stroke-width="0.45"/>
<line x1="110.94" y1="290.42" x2="110.82" y2="288.32" stroke="#5d7088" stroke-width="0.45"/>
<line x1="112.52" y1="290.34" x2="112.45" y2="288.25" stroke="#5d7088" stroke-width="0.45"/>
<path d="M117.83,280.35 A79.2,79.2 0 0 1 190.84,382.33 L188.25,381.55 A76.5,76.5 0 0 0 117.74,283.05 Z" fill="#a9c9e7"/>
<path d="M189.01,387.69 A79.2,79.2 0 0 1 174.00,412.34 L171.98,410.54 A76.5,76.5 0 0 0 186.49,386.73 Z" fill="#f7ebdc"/>
<path d="M169.82,416.66 A79.2,79.2 0 0 1 157.79,426.15 L156.33,423.88 A76.5,76.5 0 0 0 167.95,414.71 Z" fill="#4b93de"/>
<path d="M153.40,428.77 A79.2,79.2 0 0 1 145.05,432.78 L144.03,430.28 A76.5,76.5 0 0 0 152.09,426.41 Z" fill="#1fbbe6"/>
<path d="M140.78,434.39 A79.2,79.2 0 0 1 136.17,435.82 L135.44,433.22 A76.5,76.5 0 0 0 139.91,431.83 Z" fill="#f07a7a"/>
<path d="M131.06,437.05 A79.2,79.2 0 0 1 129.03,437.45 L128.55,434.79 A76.5,76.5 0 0 0 130.51,434.41 Z" fill="#de8fd0"/>
<path d="M124.10,438.18 A79.2,79.2 0 0 1 122.04,438.39 L121.80,435.70 A76.5,76.5 0 0 0 123.79,435.49 Z" fill="#2fbf9f"/>
<path d="M117.76,438.65 A79.2,79.2 0 0 1 115.97,438.69 L115.93,435.99 A76.5,76.5 0 0 0 117.67,435.95 Z" fill="#b0a0e0"/>
<path d="M117.71,283.75 A75.8,75.8 0 0 1 138.43,287.41 L137.66,289.79 A73.3,73.3 0 0 0 117.62,286.25 Z" fill="#f07068"/>
<path d="M138.43,287.41 A75.8,75.8 0 0 1 158.43,297.37 L157.00,299.42 A73.3,73.3 0 0 0 137.66,289.79 Z" fill="#e8507a"/>
<path d="M158.43,297.37 A75.8,75.8 0 0 1 174.49,312.53 L172.53,314.08 A73.3,73.3 0 0 0 157.00,299.42 Z" fill="#9d80b4"/>
<path d="M174.49,312.53 A75.8,75.8 0 0 1 184.34,328.87 L182.05,329.88 A73.3,73.3 0 0 0 172.53,314.08 Z" fill="#e8505a"/>
<path d="M184.34,328.87 A75.8,75.8 0 0 1 189.61,346.11 L187.15,346.55 A73.3,73.3 0 0 0 182.05,329.88 Z" fill="#f9c6c0"/>
<path d="M189.61,346.11 A75.8,75.8 0 0 1 190.66,364.11 L188.16,363.96 A73.3,73.3 0 0 0 187.15,346.55 Z" fill="#f5b5c5"/>
<path d="M190.66,364.11 A75.8,75.8 0 0 1 187.70,380.97 L185.30,380.26 A73.3,73.3 0 0 0 188.16,363.96 Z" fill="#f6a531"/>
<path d="M187.70,380.97 A75.8,75.8 0 0 1 187.58,381.35 L185.19,380.62 A73.3,73.3 0 0 0 185.30,380.26 Z" fill="#f7b733"/>
<path d="M185.84,386.48 A75.8,75.8 0 0 1 174.09,406.97 L172.14,405.41 A73.3,73.3 0 0 0 183.50,385.59 Z" fill="#f7b733"/>
<path d="M174.09,406.97 A75.8,75.8 0 0 1 171.46,410.07 L169.60,408.40 A73.3,73.3 0 0 0 172.14,405.41 Z" fill="#f5b5c5"/>
<path d="M167.46,414.21 A75.8,75.8 0 0 1 164.36,417.03 L162.73,415.13 A73.3,73.3 0 0 0 165.73,412.41 Z" fill="#f9c6c0"/>
<path d="M164.36,417.03 A75.8,75.8 0 0 1 162.20,418.81 L160.64,416.85 A73.3,73.3 0 0 0 162.73,415.13 Z" fill="#e8505a"/>
<path d="M162.20,418.81 A75.8,75.8 0 0 1 161.10,419.67 L159.58,417.69 A73.3,73.3 0 0 0 160.64,416.85 Z" fill="#f5b5c5"/>
<path d="M161.10,419.67 A75.8,75.8 0 0 1 159.42,420.92 L157.95,418.90 A73.3,73.3 0 0 0 159.58,417.69 Z" fill="#f07068"/>
<path d="M159.42,420.92 A75.8,75.8 0 0 1 157.12,422.52 L155.73,420.44 A73.3,73.3 0 0 0 157.95,418.90 Z" fill="#f6a531"/>
<path d="M157.12,422.52 A75.8,75.8 0 0 1 155.95,423.29 L154.60,421.18 A73.3,73.3 0 0 0 155.73,420.44 Z" fill="#9d80b4"/>
<path d="M151.75,425.80 A75.8,75.8 0 0 1 149.95,426.76 L148.79,424.55 A73.3,73.3 0 0 0 150.54,423.61 Z" fill="#f9c6c0"/>
<path d="M149.95,426.76 A75.8,75.8 0 0 1 148.73,427.38 L147.62,425.14 A73.3,73.3 0 0 0 148.79,424.55 Z" fill="#f07068"/>
<path d="M148.73,427.38 A75.8,75.8 0 0 1 146.27,428.55 L145.24,426.27 A73.3,73.3 0 0 0 147.62,425.14 Z" fill="#f6a531"/>
<path d="M146.27,428.55 A75.8,75.8 0 0 1 145.02,429.10 L144.03,426.81 A73.3,73.3 0 0 0 145.24,426.27 Z" fill="#e8507a"/>
<path d="M145.02,429.10 A75.8,75.8 0 0 1 143.76,429.63 L142.81,427.32 A73.3,73.3 0 0 0 144.03,426.81 Z" fill="#e8505a"/>
<path d="M139.68,431.17 A75.8,75.8 0 0 1 138.67,431.51 L137.89,429.13 A73.3,73.3 0 0 0 138.86,428.81 Z" fill="#f9c6c0"/>
<path d="M138.67,431.51 A75.8,75.8 0 0 1 137.67,431.83 L136.92,429.45 A73.3,73.3 0 0 0 137.89,429.13 Z" fill="#e8505a"/>
<path d="M137.67,431.83 A75.8,75.8 0 0 1 136.40,432.22 L135.70,429.82 A73.3,73.3 0 0 0 136.92,429.45 Z" fill="#f6a531"/>
<path d="M136.40,432.22 A75.8,75.8 0 0 1 135.77,432.40 L135.08,430.00 A73.3,73.3 0 0 0 135.70,429.82 Z" fill="#9d80b4"/>
<path d="M135.77,432.40 A75.8,75.8 0 0 1 135.26,432.54 L134.59,430.13 A73.3,73.3 0 0 0 135.08,430.00 Z" fill="#f07068"/>
<path d="M130.37,433.73 A75.8,75.8 0 0 1 129.72,433.86 L129.24,431.40 A73.3,73.3 0 0 0 129.86,431.28 Z" fill="#f6a531"/>
<path d="M129.72,433.86 A75.8,75.8 0 0 1 129.20,433.96 L128.74,431.50 A73.3,73.3 0 0 0 129.24,431.40 Z" fill="#e8507a"/>
<path d="M129.20,433.96 A75.8,75.8 0 0 1 128.81,434.03 L128.36,431.57 A73.3,73.3 0 0 0 128.74,431.50 Z" fill="#f9c6c0"/>
<path d="M128.81,434.03 A75.8,75.8 0 0 1 128.42,434.10 L127.98,431.64 A73.3,73.3 0 0 0 128.36,431.57 Z" fill="#f7b733"/>
<path d="M123.71,434.80 A75.8,75.8 0 0 1 123.05,434.87 L122.79,432.38 A73.3,73.3 0 0 0 123.42,432.31 Z" fill="#f6a531"/>
<path d="M123.05,434.87 A75.8,75.8 0 0 1 122.53,434.93 L122.28,432.44 A73.3,73.3 0 0 0 122.79,432.38 Z" fill="#f9c6c0"/>
<path d="M122.53,434.93 A75.8,75.8 0 0 1 122.13,434.96 L121.90,432.47 A73.3,73.3 0 0 0 122.28,432.44 Z" fill="#f07068"/>
<path d="M122.13,434.96 A75.8,75.8 0 0 1 121.74,435.00 L121.52,432.51 A73.3,73.3 0 0 0 121.90,432.47 Z" fill="#f7b733"/>
<path d="M117.65,435.25 A75.8,75.8 0 0 1 117.12,435.27 L117.05,432.77 A73.3,73.3 0 0 0 117.56,432.76 Z" fill="#e8507a"/>
<path d="M117.12,435.27 A75.8,75.8 0 0 1 116.72,435.28 L116.66,432.78 A73.3,73.3 0 0 0 117.05,432.77 Z" fill="#f7b733"/>
<path d="M116.72,435.28 A75.8,75.8 0 0 1 116.32,435.29 L116.28,432.79 A73.3,73.3 0 0 0 116.66,432.78 Z" fill="#f9c6c0"/>
<path d="M116.32,435.29 A75.8,75.8 0 0 1 115.93,435.29 L115.90,432.79 A73.3,73.3 0 0 0 116.28,432.79 Z" fill="#f07068"/>
<circle cx="111.94" cy="416.92" r="0.8" fill="#555"/>
<circle cx="90.20" cy="411.38" r="0.8" fill="#555"/>
<circle cx="72.24" cy="397.94" r="0.8" fill="#555"/>
<circle cx="60.78" cy="378.65" r="0.8" fill="#555"/>
<circle cx="57.58" cy="356.44" r="0.8" fill="#555"/>
<circle cx="63.12" cy="334.70" r="0.8" fill="#555"/>
<circle cx="76.56" cy="316.74" r="0.8" fill="#555"/>
<circle cx="95.85" cy="305.28" r="0.8" fill="#555"/>
<circle cx="117.66" cy="302.06" r="0.8" fill="#555"/>
<circle cx="168.52" cy="380.53" r="0.8" fill="#555"/>
<circle cx="154.36" cy="401.42" r="0.8" fill="#555"/>
<circle cx="142.35" cy="410.08" r="0.8" fill="#555"/>
<circle cx="128.83" cy="430.97" r="0.75" fill="#333"/>
<circle cx="122.42" cy="431.92" r="0.75" fill="#333"/>
<circle cx="116.72" cy="432.28" r="0.75" fill="#333"/>
<line x1="117.50" y1="289.54" x2="117.56" y2="288.05" stroke="#666" stroke-width="0.35"/>
<text x="117.41" y="292.04" font-size="3.3" fill="#555" text-anchor="end" font-family="'Liberation Sans', sans-serif" transform="rotate(-87.95 117.41 292.04)" stroke="#555" stroke-width="0.1" dominant-baseline="middle">0</text>
<line x1="130.17" y1="291.16" x2="130.50" y2="289.70" stroke="#666" stroke-width="0.35"/>
<text x="129.63" y="293.61" font-size="3.3" fill="#555" text-anchor="end" font-family="'Liberation Sans', sans-serif" transform="rotate(-77.48 129.63 293.61)" stroke="#555" stroke-width="0.1" dominant-baseline="middle">10%</text>
<line x1="142.34" y1="295.06" x2="142.93" y2="293.68" stroke="#666" stroke-width="0.35"/>
<text x="141.36" y="297.36" font-size="3.3" fill="#555" text-anchor="end" font-family="'Liberation Sans', sans-serif" transform="rotate(-67.00999999999999 141.36 297.36)" stroke="#555" stroke-width="0.1" dominant-baseline="middle">20%</text>
<line x1="153.59" y1="301.10" x2="154.42" y2="299.85" stroke="#666" stroke-width="0.35"/>
<text x="152.22" y="303.19" font-size="3.3" fill="#555" text-anchor="end" font-family="'Liberation Sans', sans-serif" transform="rotate(-56.54 152.22 303.19)" stroke="#555" stroke-width="0.1" dominant-baseline="middle">30%</text>
<line x1="163.56" y1="309.09" x2="164.61" y2="308.01" stroke="#666" stroke-width="0.35"/>
<text x="161.83" y="310.89" font-size="3.3" fill="#555" text-anchor="end" font-family="'Liberation Sans', sans-serif" transform="rotate(-46.07 161.83 310.89)" stroke="#555" stroke-width="0.1" dominant-baseline="middle">40%</text>
<line x1="171.92" y1="318.75" x2="173.14" y2="317.88" stroke="#666" stroke-width="0.35"/>
<text x="169.88" y="320.21" font-size="3.3" fill="#555" text-anchor="end" font-family="'Liberation Sans', sans-serif" transform="rotate(-35.6 169.88 320.21)" stroke="#555" stroke-width="0.1" dominant-baseline="middle">50%</text>
<line x1="178.37" y1="329.77" x2="179.73" y2="329.14" stroke="#666" stroke-width="0.35"/>
<text x="176.11" y="330.83" font-size="3.3" fill="#555" text-anchor="end" font-family="'Liberation Sans', sans-serif" transform="rotate(-25.129999999999995 176.11 330.83)" stroke="#555" stroke-width="0.1" dominant-baseline="middle">60%</text>
<line x1="182.72" y1="341.78" x2="184.17" y2="341.40" stroke="#666" stroke-width="0.35"/>
<text x="180.30" y="342.42" font-size="3.3" fill="#555" text-anchor="end" font-family="'Liberation Sans', sans-serif" transform="rotate(-14.659999999999997 180.30 342.42)" stroke="#555" stroke-width="0.1" dominant-baseline="middle">70%</text>
<line x1="184.81" y1="354.39" x2="186.31" y2="354.28" stroke="#666" stroke-width="0.35"/>
<text x="182.32" y="354.57" font-size="3.3" fill="#555" text-anchor="end" font-family="'Liberation Sans', sans-serif" transform="rotate(-4.189999999999998 182.32 354.57)" stroke="#555" stroke-width="0.1" dominant-baseline="middle">80%</text>
<line x1="184.58" y1="367.16" x2="186.07" y2="367.32" stroke="#666" stroke-width="0.35"/>
<text x="182.09" y="366.88" font-size="3.3" fill="#555" text-anchor="end" font-family="'Liberation Sans', sans-serif" transform="rotate(6.280000000000001 182.09 366.88)" stroke="#555" stroke-width="0.1" dominant-baseline="middle">90%</text>
<line x1="180.42" y1="384.41" x2="181.82" y2="384.95" stroke="#666" stroke-width="0.3"/>
<text x="179.29" y="383.99" font-size="3.0" fill="#555" text-anchor="end" font-family="'Liberation Sans', sans-serif" transform="rotate(20.849999999999994 179.29 383.99)" stroke="#555" stroke-width="0.1" dominant-baseline="middle">0</text>
<line x1="179.46" y1="386.79" x2="180.84" y2="387.38" stroke="#666" stroke-width="0.3"/>
<text x="178.35" y="386.33" font-size="3.0" fill="#555" text-anchor="end" font-family="'Liberation Sans', sans-serif" transform="rotate(22.94999999999999 178.35 386.33)" stroke="#555" stroke-width="0.1" dominant-baseline="middle">10%</text>
<line x1="178.42" y1="389.14" x2="179.77" y2="389.77" stroke="#666" stroke-width="0.3"/>
<text x="177.33" y="388.63" font-size="3.0" fill="#555" text-anchor="end" font-family="'Liberation Sans', sans-serif" transform="rotate(25.049999999999997 177.33 388.63)" stroke="#555" stroke-width="0.1" dominant-baseline="middle">20%</text>
<line x1="177.29" y1="391.44" x2="178.62" y2="392.13" stroke="#666" stroke-width="0.3"/>
<text x="176.22" y="390.89" font-size="3.0" fill="#555" text-anchor="end" font-family="'Liberation Sans', sans-serif" transform="rotate(27.14999999999999 176.22 390.89)" stroke="#555" stroke-width="0.1" dominant-baseline="middle">30%</text>
<line x1="176.07" y1="393.70" x2="177.38" y2="394.44" stroke="#666" stroke-width="0.3"/>
<text x="175.03" y="393.12" font-size="3.0" fill="#555" text-anchor="end" font-family="'Liberation Sans', sans-serif" transform="rotate(29.25 175.03 393.12)" stroke="#555" stroke-width="0.1" dominant-baseline="middle">40%</text>
<line x1="174.78" y1="395.92" x2="176.06" y2="396.70" stroke="#666" stroke-width="0.3"/>
<text x="173.76" y="395.29" font-size="3.0" fill="#555" text-anchor="end" font-family="'Liberation Sans', sans-serif" transform="rotate(31.349999999999994 173.76 395.29)" stroke="#555" stroke-width="0.1" dominant-baseline="middle">50%</text>
<line x1="173.41" y1="398.08" x2="174.66" y2="398.91" stroke="#666" stroke-width="0.3"/>
<text x="172.40" y="397.42" font-size="3.0" fill="#555" text-anchor="end" font-family="'Liberation Sans', sans-serif" transform="rotate(33.44999999999999 172.40 397.42)" stroke="#555" stroke-width="0.1" dominant-baseline="middle">60%</text>
<line x1="171.95" y1="400.20" x2="173.17" y2="401.07" stroke="#666" stroke-width="0.3"/>
<text x="170.98" y="399.50" font-size="3.0" fill="#555" text-anchor="end" font-family="'Liberation Sans', sans-serif" transform="rotate(35.55 170.98 399.50)" stroke="#555" stroke-width="0.1" dominant-baseline="middle">70%</text>
<line x1="170.42" y1="402.26" x2="171.61" y2="403.17" stroke="#666" stroke-width="0.3"/>
<text x="169.47" y="401.53" font-size="3.0" fill="#555" text-anchor="end" font-family="'Liberation Sans', sans-serif" transform="rotate(37.64999999999999 169.47 401.53)" stroke="#555" stroke-width="0.1" dominant-baseline="middle">80%</text>
<line x1="168.82" y1="404.26" x2="169.97" y2="405.22" stroke="#666" stroke-width="0.3"/>
<text x="167.90" y="403.49" font-size="3.0" fill="#555" text-anchor="end" font-family="'Liberation Sans', sans-serif" transform="rotate(39.75 167.90 403.49)" stroke="#555" stroke-width="0.1" dominant-baseline="middle">90%</text>
<line x1="167.14" y1="406.20" x2="168.26" y2="407.20" stroke="#666" stroke-width="0.3"/>
<text x="166.25" y="405.40" font-size="3.0" fill="#555" text-anchor="end" font-family="'Liberation Sans', sans-serif" transform="rotate(41.849999999999994 166.25 405.40)" stroke="#555" stroke-width="0.1" dominant-baseline="middle">100%</text>
<line x1="163.45" y1="410.02" x2="164.49" y2="411.11" stroke="#666" stroke-width="0.3"/>
<line x1="161.46" y1="411.86" x2="162.45" y2="412.98" stroke="#666" stroke-width="0.3"/>
<line x1="159.39" y1="413.62" x2="160.34" y2="414.78" stroke="#666" stroke-width="0.3"/>
<line x1="157.26" y1="415.30" x2="158.17" y2="416.50" stroke="#666" stroke-width="0.3"/>
<line x1="155.07" y1="416.90" x2="155.93" y2="418.13" stroke="#666" stroke-width="0.3"/>
<line x1="152.82" y1="418.41" x2="153.63" y2="419.67" stroke="#666" stroke-width="0.3"/>
<line x1="148.94" y1="420.72" x2="149.66" y2="422.04" stroke="#666" stroke-width="0.3"/>
<line x1="146.53" y1="422.00" x2="147.20" y2="423.34" stroke="#666" stroke-width="0.3"/>
<line x1="144.07" y1="423.18" x2="144.69" y2="424.54" stroke="#666" stroke-width="0.3"/>
<line x1="141.56" y1="424.26" x2="142.13" y2="425.65" stroke="#666" stroke-width="0.3"/>
<line x1="137.79" y1="425.69" x2="138.28" y2="427.10" stroke="#666" stroke-width="0.3"/>
<line x1="133.71" y1="426.95" x2="134.11" y2="428.40" stroke="#666" stroke-width="0.3"/>
<line x1="129.20" y1="428.05" x2="129.50" y2="429.51" stroke="#666" stroke-width="0.3"/>
<line x1="127.40" y1="428.39" x2="127.66" y2="429.87" stroke="#666" stroke-width="0.3"/>
<line x1="123.05" y1="429.04" x2="123.22" y2="430.53" stroke="#666" stroke-width="0.3"/>
<line x1="121.22" y1="429.22" x2="121.36" y2="430.72" stroke="#666" stroke-width="0.3"/>
<line x1="117.44" y1="429.46" x2="117.50" y2="430.96" stroke="#666" stroke-width="0.3"/>
<line x1="115.86" y1="429.49" x2="115.87" y2="430.99" stroke="#666" stroke-width="0.3"/>
<text x="97.25" y="448.75" font-size="4.3" fill="#333" text-anchor="end" font-family="'Liberation Sans', sans-serif" transform="rotate(-78.75 97.25 448.75)" stroke="#333" stroke-width="0.08" dominant-baseline="middle">low41</text>
<text x="64.44" y="435.16" font-size="4.3" fill="#333" text-anchor="end" font-family="'Liberation Sans', sans-serif" transform="rotate(-56.25 64.44 435.16)" stroke="#333" stroke-width="0.08" dominant-baseline="middle">normal44</text>
<text x="39.34" y="410.06" font-size="4.3" fill="#333" text-anchor="end" font-family="'Liberation Sans', sans-serif" transform="rotate(-33.75 39.34 410.06)" stroke="#333" stroke-width="0.08" dominant-baseline="middle">low47</text>
<text x="25.75" y="377.25" font-size="4.3" fill="#333" text-anchor="end" font-family="'Liberation Sans', sans-serif" transform="rotate(-11.25 25.75 377.25)" stroke="#333" stroke-width="0.08" dominant-baseline="middle">normal47</text>
<text x="25.75" y="341.75" font-size="4.3" fill="#333" text-anchor="end" font-family="'Liberation Sans', sans-serif" transform="rotate(11.25 25.75 341.75)" stroke="#333" stroke-width="0.08" dominant-baseline="middle">normal40</text>
<text x="39.34" y="308.94" font-size="4.3" fill="#333" text-anchor="end" font-family="'Liberation Sans', sans-serif" transform="rotate(33.75 39.34 308.94)" stroke="#333" stroke-width="0.08" dominant-baseline="middle">low50</text>
<text x="64.44" y="283.84" font-size="4.3" fill="#333" text-anchor="end" font-family="'Liberation Sans', sans-serif" transform="rotate(56.25 64.44 283.84)" stroke="#333" stroke-width="0.08" dominant-baseline="middle">normal50</text>
<text x="97.25" y="270.25" font-size="4.3" fill="#333" text-anchor="end" font-family="'Liberation Sans', sans-serif" transform="rotate(78.75 97.25 270.25)" stroke="#333" stroke-width="0.08" dominant-baseline="middle">low44</text>
<text x="187.37" y="307.69" font-size="4.3" fill="#333" text-anchor="start" font-family="'Liberation Sans', sans-serif" transform="rotate(-35.6 187.37 307.69)" stroke="#333" stroke-width="0.08" dominant-baseline="middle">norank_f__norank_o__Chloroplast</text>
<text x="191.01" y="405.80" font-size="4.3" fill="#333" text-anchor="start" font-family="'Liberation Sans', sans-serif" transform="rotate(31.349999999999994 191.01 405.80)" stroke="#333" stroke-width="0.08" dominant-baseline="middle">Bacillus</text>
<text x="170.10" y="429.39" font-size="4.3" fill="#333" text-anchor="start" font-family="'Liberation Sans', sans-serif" transform="rotate(51.75 170.10 429.39)" stroke="#333" stroke-width="0.08" dominant-baseline="middle">Enterobacter</text>
<text x="153.53" y="439.73" font-size="4.3" fill="#333" text-anchor="start" font-family="'Liberation Sans', sans-serif" transform="rotate(64.35 153.53 439.73)" stroke="#333" stroke-width="0.08" dominant-baseline="middle">others</text>
<text x="141.39" y="444.50" font-size="4.3" fill="#333" text-anchor="start" font-family="'Liberation Sans', sans-serif" transform="rotate(72.75 141.39 444.50)" stroke="#333" stroke-width="0.08" dominant-baseline="middle">Xanthomonas</text>
<text x="131.91" y="446.88" font-size="4.3" fill="#333" text-anchor="start" font-family="'Liberation Sans', sans-serif" transform="rotate(79.05000000000001 131.91 446.88)" stroke="#333" stroke-width="0.08" dominant-baseline="middle">norank_f__Mitochondria</text>
<text x="124.07" y="448.04" font-size="4.3" fill="#333" text-anchor="start" font-family="'Liberation Sans', sans-serif" transform="rotate(84.15 124.07 448.04)" stroke="#333" stroke-width="0.08" dominant-baseline="middle">Lactococcus</text>
<text x="117.10" y="448.48" font-size="4.3" fill="#333" text-anchor="start" font-family="'Liberation Sans', sans-serif" transform="rotate(88.65 117.10 448.48)" stroke="#333" stroke-width="0.08" dominant-baseline="middle">Comamonas</text>
</svg></body></html>
